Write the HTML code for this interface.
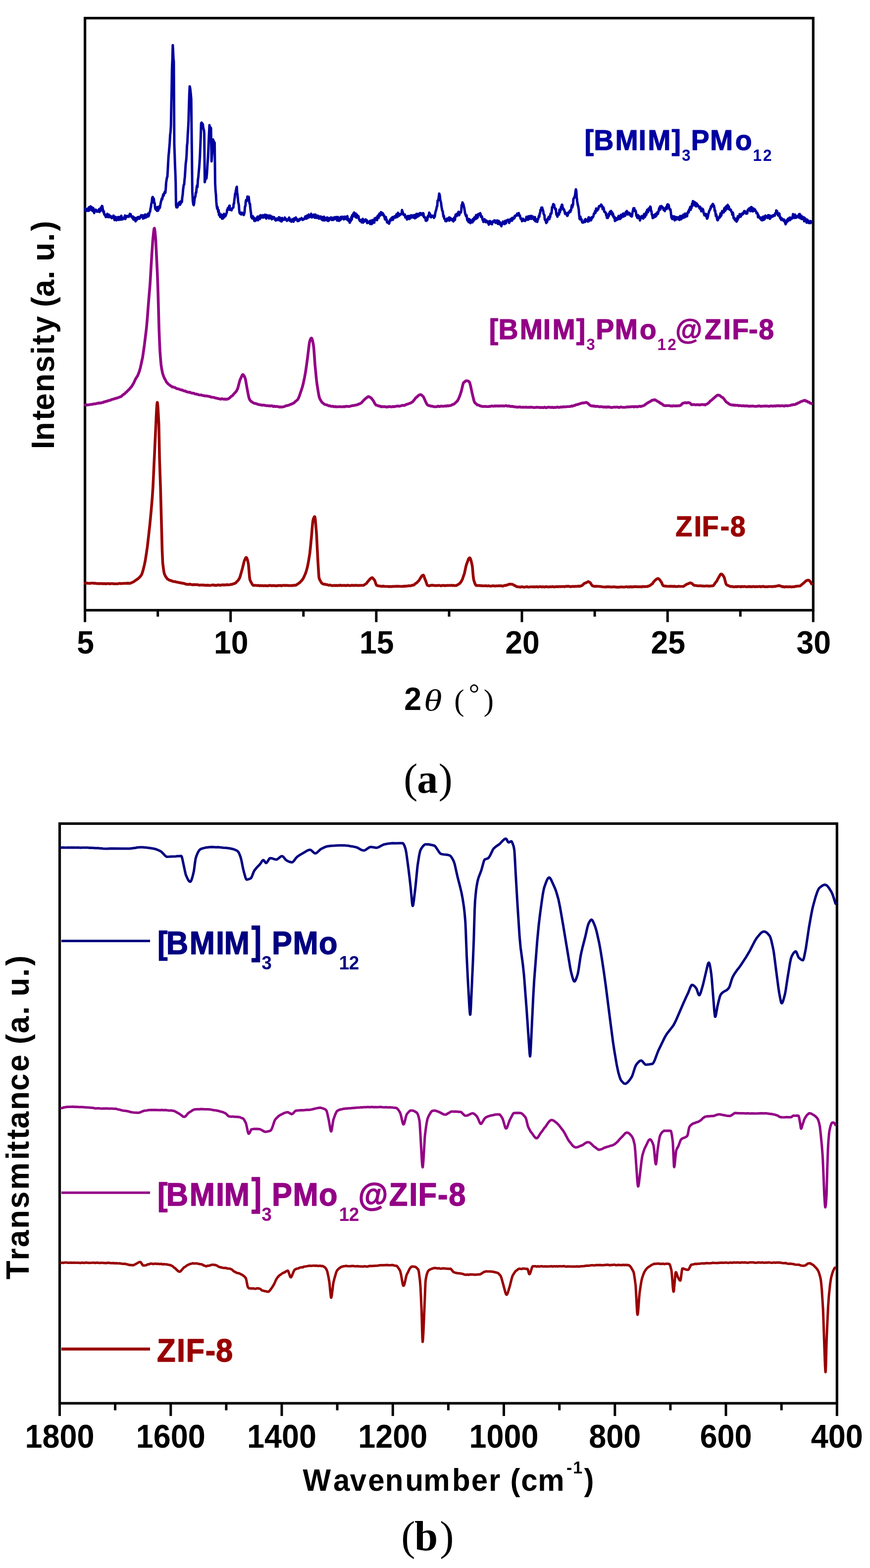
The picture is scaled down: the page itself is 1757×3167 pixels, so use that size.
<!DOCTYPE html>
<html><head><meta charset="utf-8"><title>XRD and FTIR</title><style>
html,body{margin:0;padding:0;background:#fff;}
svg{display:block;}
</style></head>
<body><svg width="1757" height="3167" viewBox="0 0 1757 3167">
<rect width="1757" height="3167" fill="#fff"/>
<rect x="171.6" y="36.6" width="1470.7" height="1195.9" fill="none" stroke="#000" stroke-width="5.2"/>
<path d="M171.6 1232.5V1256.5M318.7 1232.5V1245.5M465.7 1232.5V1256.5M612.8 1232.5V1245.5M759.9 1232.5V1256.5M907.0 1232.5V1245.5M1054.0 1232.5V1256.5M1201.1 1232.5V1245.5M1348.2 1232.5V1256.5M1495.2 1232.5V1245.5M1642.3 1232.5V1256.5" stroke="#000" stroke-width="5" fill="none"/>
<path d="M172.0 1178.1L174.0 1178.1L176.0 1177.7L180.0 1178.3L182.0 1178.4L184.0 1177.7L188.0 1177.7L190.0 1178.2L192.0 1177.9L196.0 1178.7L198.0 1178.4L200.0 1178.9L202.0 1178.9L204.0 1178.4L206.0 1179.0L208.0 1178.7L210.0 1178.9L212.0 1178.8L214.0 1179.2L218.0 1178.6L222.0 1179.2L224.0 1178.8L226.0 1178.7L228.0 1178.8L230.0 1179.3L232.0 1179.3L234.0 1179.0L236.0 1179.2L238.0 1179.1L242.0 1178.3L244.0 1178.8L250.0 1178.2L254.0 1178.2L258.0 1177.9L262.0 1178.3L264.5 1177.6L270.0 1174.9L274.0 1172.0L276.0 1170.9L278.0 1169.1L280.0 1167.8L284.0 1163.5L285.8 1160.9L286.8 1158.7L289.0 1151.7L291.8 1140.2L293.5 1131.6L295.2 1120.7L297.5 1104.9L299.2 1090.4L302.5 1060.7L305.2 1032.4L307.5 1005.5L309.0 982.4L315.8 835.3L316.8 818.4L317.5 812.7L317.8 812.7L318.2 815.0L319.0 823.0L320.8 856.4L322.2 927.4L324.2 986.9L327.5 1111.9L328.5 1135.5L329.8 1147.0L331.0 1154.9L332.2 1159.7L334.0 1163.6L338.0 1169.3L338.5 1169.7L340.5 1170.9L343.8 1172.4L346.0 1172.7L348.0 1174.0L352.0 1174.7L354.0 1174.8L356.0 1175.5L360.0 1176.2L362.0 1176.9L366.0 1177.3L368.0 1178.0L370.0 1178.1L372.0 1178.5L374.0 1179.4L378.0 1180.3L380.0 1180.4L384.0 1179.9L388.0 1181.1L392.0 1180.9L400.0 1181.0L402.0 1181.9L404.0 1181.8L406.0 1181.4L408.0 1181.7L410.0 1181.4L412.0 1181.7L414.0 1182.2L420.0 1181.9L424.0 1182.6L428.0 1181.6L432.0 1181.6L434.0 1182.5L436.0 1182.0L438.0 1182.2L440.0 1181.5L442.0 1181.6L446.0 1182.1L448.0 1181.4L450.0 1181.1L452.0 1181.8L454.0 1181.2L456.0 1181.5L458.0 1180.8L460.0 1181.3L462.0 1181.3L464.0 1181.0L466.0 1180.4L468.0 1180.5L470.0 1179.5L472.2 1179.1L476.0 1177.4L478.0 1174.9L480.0 1173.3L482.5 1170.0L483.5 1168.2L484.8 1164.9L486.8 1158.0L489.8 1147.2L493.2 1133.4L495.8 1127.4L496.5 1126.3L497.2 1125.9L497.8 1126.1L498.2 1126.7L499.2 1129.1L500.0 1131.6L501.5 1138.3L502.2 1144.9L504.0 1166.3L504.8 1171.1L507.0 1175.9L509.0 1179.5L510.0 1181.0L511.5 1182.2L512.2 1182.5L514.0 1182.2L516.0 1182.3L520.0 1182.7L522.0 1182.3L524.0 1183.1L526.0 1182.8L528.0 1183.1L530.0 1182.6L532.0 1183.3L536.0 1182.7L538.0 1183.3L540.0 1183.1L542.0 1183.2L544.0 1182.4L546.0 1182.5L548.0 1183.1L550.0 1182.7L552.0 1182.9L554.0 1182.5L556.0 1183.4L558.0 1182.9L560.0 1183.2L562.0 1182.4L564.0 1182.8L566.0 1182.4L568.0 1183.2L572.0 1182.3L574.0 1182.3L576.0 1182.8L578.0 1182.3L582.0 1182.6L588.0 1182.7L590.0 1182.4L592.0 1182.6L594.0 1182.1L598.0 1181.9L600.0 1180.3L602.0 1179.1L606.0 1176.2L609.2 1172.6L611.5 1169.8L612.5 1168.0L616.0 1160.6L618.0 1155.3L619.5 1150.3L621.0 1144.2L622.5 1136.9L624.2 1126.7L625.8 1116.4L627.2 1102.9L629.2 1082.0L631.0 1060.1L631.8 1052.7L632.5 1049.4L633.8 1045.6L634.5 1044.2L635.0 1043.7L635.5 1043.5L636.0 1044.5L636.2 1045.7L637.0 1051.4L639.2 1078.0L641.8 1129.4L643.5 1157.9L644.0 1164.1L644.5 1167.9L645.2 1169.9L647.0 1173.4L649.2 1177.0L650.5 1178.4L652.2 1179.4L654.0 1180.0L656.0 1179.9L658.0 1180.8L660.0 1180.7L664.0 1182.1L666.0 1181.6L668.0 1182.0L670.0 1182.8L672.0 1182.9L674.0 1182.4L676.0 1182.6L680.0 1182.4L682.0 1182.8L684.0 1182.1L686.0 1182.7L688.0 1181.9L690.0 1182.8L694.0 1182.3L696.0 1182.6L698.0 1182.4L700.0 1182.7L702.0 1182.0L706.0 1182.8L708.0 1182.8L710.0 1182.1L712.0 1182.2L714.0 1182.8L716.0 1182.2L718.0 1182.0L720.0 1182.6L722.0 1182.3L724.0 1182.6L726.0 1182.4L732.0 1182.2L734.0 1182.3L740.0 1178.5L742.0 1175.6L748.0 1168.7L749.5 1167.6L750.8 1166.9L751.5 1166.8L752.0 1166.8L752.8 1167.5L754.0 1169.2L756.0 1171.3L756.8 1172.5L759.5 1180.3L760.5 1182.3L760.8 1182.5L762.0 1182.6L764.0 1183.4L766.0 1183.5L772.0 1184.4L774.0 1183.7L776.0 1184.3L784.0 1184.5L786.0 1184.9L788.0 1184.5L792.0 1184.8L794.0 1184.2L796.0 1184.5L798.0 1184.2L802.0 1184.0L812.0 1184.5L814.0 1184.1L816.0 1184.4L818.0 1183.7L820.0 1183.9L822.0 1183.6L824.0 1183.5L826.0 1182.9L828.0 1183.4L830.0 1183.0L832.0 1182.1L833.8 1182.1L836.0 1181.6L838.0 1179.4L842.0 1176.9L844.0 1174.5L846.0 1172.6L849.0 1167.6L852.0 1163.1L853.0 1162.3L854.8 1161.6L855.2 1161.8L856.0 1163.0L858.0 1169.1L860.0 1173.9L862.0 1180.0L863.0 1181.9L863.8 1182.5L866.0 1183.1L868.0 1183.0L870.0 1182.2L872.0 1182.1L876.0 1182.3L878.0 1182.8L884.0 1182.6L886.0 1182.1L890.0 1183.1L896.0 1182.3L898.0 1183.0L900.0 1182.5L902.0 1182.7L904.0 1182.3L910.0 1182.5L912.0 1182.1L914.0 1182.8L916.0 1182.3L918.0 1182.7L921.5 1182.6L922.5 1182.2L928.0 1178.9L930.8 1175.7L933.8 1170.2L938.0 1157.8L940.5 1146.0L942.0 1140.3L946.0 1129.5L947.2 1127.5L948.5 1126.7L949.0 1126.9L949.5 1127.4L950.5 1129.6L951.8 1134.1L953.8 1143.1L955.8 1165.2L956.5 1170.3L958.2 1176.1L959.5 1179.5L960.8 1181.7L961.5 1182.4L962.0 1182.6L964.0 1182.5L966.0 1182.8L968.0 1182.5L970.0 1182.9L976.0 1183.3L978.0 1183.3L980.0 1183.1L982.0 1183.1L984.0 1183.6L986.0 1183.1L990.0 1183.8L992.0 1183.7L996.0 1183.1L998.0 1183.5L1000.0 1183.6L1004.0 1183.2L1006.0 1183.3L1008.0 1183.0L1010.0 1183.2L1012.0 1183.0L1014.0 1183.6L1016.0 1183.8L1018.0 1182.8L1020.0 1182.3L1022.0 1182.5L1024.0 1181.5L1026.0 1181.1L1028.0 1180.1L1030.0 1179.8L1032.0 1180.0L1034.2 1180.0L1035.8 1180.7L1038.0 1182.0L1040.0 1182.7L1042.0 1184.2L1043.2 1184.7L1045.2 1185.3L1048.0 1185.3L1050.0 1185.9L1054.0 1185.0L1056.0 1185.6L1058.0 1185.9L1060.0 1185.8L1064.0 1184.9L1066.0 1185.7L1068.0 1185.8L1072.0 1185.3L1074.0 1185.3L1076.0 1185.6L1078.0 1185.0L1080.0 1185.6L1084.0 1184.9L1086.0 1185.7L1090.0 1184.9L1092.0 1185.0L1094.0 1185.6L1096.0 1185.0L1098.0 1185.5L1100.0 1185.6L1102.0 1184.8L1106.0 1185.5L1108.0 1185.2L1110.0 1185.5L1112.0 1185.0L1114.0 1185.3L1116.0 1184.8L1118.0 1185.4L1120.0 1185.4L1124.0 1184.8L1128.0 1185.1L1130.0 1184.6L1132.0 1184.9L1134.0 1184.7L1138.0 1184.6L1140.0 1185.1L1142.0 1184.4L1148.0 1184.1L1152.0 1184.9L1154.0 1184.9L1156.0 1184.4L1158.0 1184.3L1160.0 1184.7L1162.0 1184.3L1166.0 1184.3L1168.0 1183.7L1170.0 1184.4L1172.0 1183.6L1173.2 1183.5L1174.8 1183.0L1176.0 1182.2L1178.0 1180.1L1180.0 1178.4L1184.0 1176.8L1188.0 1174.6L1189.0 1175.0L1190.0 1175.8L1191.0 1176.2L1192.0 1176.8L1194.0 1180.1L1196.0 1182.8L1197.2 1183.5L1202.0 1184.5L1204.0 1184.1L1206.0 1184.3L1208.0 1184.3L1214.0 1184.8L1216.0 1185.3L1224.0 1185.6L1226.0 1185.0L1228.0 1185.5L1230.0 1185.0L1234.0 1185.8L1236.0 1185.5L1240.0 1185.3L1242.0 1185.4L1244.0 1185.9L1246.0 1186.0L1248.0 1185.7L1250.0 1186.0L1252.0 1185.7L1254.0 1185.3L1258.0 1185.7L1262.0 1185.6L1266.0 1185.0L1268.0 1185.8L1270.0 1185.1L1272.0 1185.8L1274.0 1184.9L1276.0 1185.8L1278.0 1185.1L1280.0 1185.5L1282.0 1184.7L1284.0 1185.1L1286.0 1184.9L1288.0 1185.3L1292.0 1185.0L1296.0 1185.4L1298.0 1184.4L1300.0 1184.9L1302.0 1184.9L1304.0 1184.8L1306.0 1184.4L1308.0 1184.7L1310.0 1183.4L1312.0 1183.1L1316.0 1179.9L1317.0 1179.5L1318.0 1178.7L1320.0 1175.2L1324.0 1171.1L1327.0 1169.0L1328.8 1168.5L1329.5 1168.6L1330.2 1169.0L1332.0 1170.7L1335.8 1175.8L1338.0 1181.1L1338.5 1181.9L1339.5 1183.0L1340.5 1183.4L1348.0 1184.3L1350.0 1184.2L1352.0 1184.3L1354.0 1183.9L1356.0 1184.2L1358.0 1184.1L1360.0 1184.7L1362.0 1184.0L1364.0 1184.6L1366.0 1184.8L1368.0 1184.6L1370.0 1184.1L1372.0 1184.3L1380.0 1184.5L1388.0 1179.4L1390.0 1179.1L1392.0 1177.9L1394.0 1177.2L1398.0 1178.9L1400.0 1181.1L1401.5 1182.1L1402.5 1182.5L1404.0 1182.4L1408.0 1183.1L1412.0 1183.2L1414.0 1183.0L1416.0 1183.2L1418.0 1183.6L1420.0 1183.5L1422.0 1183.8L1424.0 1183.8L1428.0 1183.3L1430.0 1183.9L1432.0 1183.6L1434.0 1183.9L1436.0 1183.4L1438.5 1183.5L1439.2 1183.3L1440.5 1182.6L1442.0 1181.2L1444.0 1177.9L1446.0 1175.7L1447.5 1173.6L1450.8 1167.3L1454.2 1161.4L1455.5 1159.8L1456.0 1159.5L1456.5 1159.4L1457.8 1159.8L1459.5 1161.3L1460.8 1163.1L1462.5 1166.2L1463.2 1168.4L1465.8 1178.2L1466.5 1180.0L1467.8 1181.4L1469.0 1182.1L1472.0 1183.2L1474.0 1184.4L1480.0 1184.9L1482.0 1185.4L1486.0 1184.7L1488.0 1185.3L1490.0 1184.6L1492.0 1184.8L1494.0 1184.8L1496.0 1185.4L1498.0 1184.4L1500.0 1185.0L1504.0 1184.6L1506.0 1185.0L1508.0 1185.2L1510.0 1185.2L1512.0 1184.5L1514.0 1185.2L1516.0 1184.7L1518.0 1185.3L1522.0 1184.5L1524.0 1185.1L1528.0 1184.9L1530.0 1185.0L1534.0 1184.4L1536.0 1185.3L1538.0 1184.7L1542.0 1184.4L1544.0 1185.1L1546.0 1185.3L1548.0 1184.9L1550.0 1185.2L1552.0 1184.7L1558.0 1184.7L1560.0 1185.0L1564.0 1184.2L1566.0 1184.5L1568.0 1183.7L1572.0 1182.9L1573.5 1182.8L1574.0 1182.8L1576.0 1183.8L1578.0 1184.1L1580.0 1185.2L1582.0 1184.8L1584.0 1185.8L1586.0 1185.0L1588.0 1185.1L1590.0 1185.0L1592.0 1185.4L1596.0 1185.0L1598.0 1185.6L1600.0 1185.1L1602.0 1185.3L1604.0 1185.1L1606.0 1184.3L1608.0 1184.4L1610.0 1183.7L1614.0 1183.7L1616.0 1183.3L1617.2 1182.5L1620.0 1180.0L1622.0 1178.5L1628.0 1173.0L1631.0 1172.0L1632.2 1171.8L1634.0 1172.2L1635.5 1173.6L1637.0 1175.7L1638.9 1179.2" fill="none" stroke="#990000" stroke-width="5.6" stroke-linejoin="round" stroke-linecap="round"/>
<path d="M172.0 817.9L174.0 817.4L176.0 818.0L180.0 817.5L184.0 816.7L186.0 816.8L188.0 816.1L190.0 815.7L192.0 815.8L194.0 815.3L196.0 814.5L198.0 814.6L200.0 813.8L202.0 814.2L204.0 813.8L206.0 813.0L208.0 813.0L210.0 811.6L212.0 811.6L214.0 810.6L216.0 810.4L218.0 809.5L220.0 808.9L222.0 808.8L224.0 807.7L226.0 806.9L232.0 805.3L234.0 804.4L236.0 804.3L242.0 801.7L244.0 801.2L246.0 799.7L248.0 797.6L250.0 796.6L252.0 795.1L254.0 792.7L256.0 791.4L258.0 788.9L260.5 786.8L265.8 780.7L270.0 773.6L274.0 765.0L278.0 758.8L279.5 755.2L281.5 749.7L283.5 742.7L288.0 721.8L291.2 700.0L295.5 665.2L297.2 647.1L300.0 610.3L303.0 574.3L306.0 523.5L308.5 485.9L310.5 466.1L311.2 461.8L311.5 461.2L311.8 461.0L312.2 462.3L313.0 467.6L314.5 484.4L317.8 552.5L319.2 592.1L321.0 659.4L322.0 687.0L323.0 708.2L324.0 722.3L325.2 735.6L326.2 743.1L328.0 752.4L329.2 756.7L331.8 763.5L334.0 767.3L336.0 771.4L339.5 775.4L341.5 777.0L348.0 781.6L350.0 781.5L352.0 782.6L354.0 783.0L356.0 784.6L358.0 785.2L360.0 785.3L364.0 787.0L366.0 787.6L368.0 787.6L370.0 789.1L372.0 789.6L374.0 789.5L376.0 791.0L380.0 792.1L384.0 792.4L386.0 793.8L390.0 794.1L392.0 794.5L394.0 795.8L396.0 795.7L402.0 797.5L404.0 797.7L406.0 797.6L408.0 798.5L410.0 798.7L414.0 799.8L416.0 799.6L420.0 800.2L422.0 800.8L424.0 800.9L426.0 802.1L428.0 802.2L432.0 802.8L434.0 803.5L446.0 806.2L448.0 805.3L452.0 806.4L454.0 805.9L456.0 806.8L458.0 806.0L460.0 806.0L464.0 803.6L466.0 801.3L470.0 798.6L472.0 795.9L476.0 791.7L478.0 789.0L479.5 785.8L480.5 783.1L483.8 770.4L484.8 767.2L489.0 758.0L490.0 756.6L490.5 756.5L491.5 757.1L493.2 759.6L494.2 761.7L495.5 765.3L496.5 770.2L498.8 783.6L501.5 797.7L502.5 802.2L503.5 805.6L504.8 808.2L508.0 811.4L510.8 813.3L514.0 814.8L516.0 814.9L522.0 817.0L526.0 817.8L528.0 817.8L530.0 818.6L532.0 818.1L538.0 819.4L540.0 819.1L542.0 819.8L544.0 819.5L546.0 820.1L548.0 819.5L550.0 819.7L552.0 821.1L554.0 820.3L556.0 821.2L558.0 820.9L560.0 821.0L562.0 821.4L564.0 822.2L566.0 821.8L568.0 822.3L574.0 821.2L578.0 819.4L580.0 819.2L584.0 818.1L586.0 817.0L590.8 815.3L594.0 813.5L596.0 811.3L598.2 809.8L601.0 807.2L602.0 805.9L604.2 800.8L610.2 783.2L612.0 776.6L615.2 761.6L617.2 750.6L621.2 722.0L623.8 699.8L624.8 692.7L626.0 687.7L626.8 685.6L627.8 683.7L628.8 682.8L629.2 683.0L629.8 683.6L630.8 686.3L632.0 691.5L633.2 698.4L634.0 706.3L636.2 737.6L639.2 768.0L640.2 776.0L643.0 793.4L644.0 798.9L645.2 803.7L646.2 806.0L650.0 812.4L656.0 817.1L660.0 817.8L664.0 819.8L666.0 819.4L668.0 820.5L670.0 820.8L672.0 820.4L674.0 821.5L678.0 821.1L680.0 821.7L686.0 821.3L692.0 821.8L694.0 821.0L696.0 821.6L698.0 820.7L700.0 820.6L702.0 821.0L706.0 820.9L712.0 819.1L714.0 819.3L716.0 818.5L718.0 818.4L722.0 817.4L724.0 816.0L726.0 815.9L729.2 814.1L730.8 812.7L734.0 809.0L736.0 807.0L741.2 802.7L744.0 800.9L748.0 802.8L750.0 804.2L752.0 807.0L753.5 808.7L757.5 815.9L759.0 817.9L760.0 818.4L762.0 818.9L766.0 820.4L768.0 820.3L770.0 821.8L772.0 821.0L774.0 821.6L776.0 821.3L778.0 821.4L780.0 822.3L782.0 821.6L784.0 821.9L786.0 821.1L788.0 821.2L790.0 821.8L792.0 821.7L794.0 820.9L796.0 821.5L800.0 820.6L804.0 820.0L806.0 820.6L810.0 819.6L812.0 818.8L814.0 818.7L816.0 819.1L822.0 816.4L824.0 816.0L830.0 813.6L832.5 812.1L833.8 811.0L838.0 805.9L840.0 802.9L842.0 802.2L844.0 799.5L844.8 799.0L847.5 797.4L849.2 797.0L850.2 797.2L851.5 798.0L853.2 799.5L854.8 801.1L855.8 802.8L858.2 808.1L860.0 812.3L862.0 816.2L863.2 817.6L866.0 819.4L868.0 819.4L870.0 820.2L871.0 820.4L874.0 820.6L876.0 821.5L882.0 821.5L884.0 820.3L888.0 821.3L890.0 820.3L896.0 820.6L898.0 820.1L900.0 819.9L902.0 820.3L904.0 819.2L906.0 819.9L908.0 819.2L910.0 819.0L912.0 818.4L914.0 816.8L916.0 816.7L918.0 815.3L922.8 810.8L923.8 809.6L925.2 807.2L926.8 804.0L930.0 795.4L931.8 789.7L934.8 776.9L936.0 773.0L936.8 772.1L938.0 771.7L940.0 769.6L942.0 769.0L946.0 769.7L948.0 771.7L948.5 772.7L949.2 775.0L950.5 780.2L953.0 791.9L956.2 805.6L957.5 810.1L958.8 813.1L959.2 813.7L962.0 815.9L964.0 817.9L966.0 818.0L970.0 819.9L972.0 820.3L974.2 821.0L978.0 821.0L980.0 820.7L984.0 821.2L986.0 821.2L988.0 820.8L990.0 821.0L992.0 820.0L994.0 820.0L996.0 820.6L998.0 820.1L1000.0 819.9L1002.0 820.1L1004.0 819.8L1006.0 820.4L1008.0 819.7L1010.0 820.1L1012.0 819.8L1014.0 820.1L1016.0 819.6L1018.0 820.2L1022.0 819.1L1024.0 820.1L1026.0 820.4L1028.0 819.7L1030.0 820.9L1032.0 820.7L1034.0 821.1L1036.0 820.7L1038.0 821.8L1042.0 821.8L1044.0 822.5L1046.0 822.2L1048.0 822.3L1050.0 821.8L1052.0 822.5L1054.0 822.7L1056.0 822.3L1058.0 822.7L1060.0 822.6L1062.0 822.2L1064.0 822.7L1068.0 822.5L1070.0 822.9L1072.0 822.2L1074.0 822.6L1076.0 822.7L1078.0 823.3L1080.0 823.0L1082.0 823.0L1084.0 822.4L1086.0 822.8L1088.0 822.7L1090.0 823.4L1092.0 822.8L1094.0 823.3L1096.0 823.1L1098.0 823.4L1100.0 822.3L1102.0 823.4L1104.0 823.4L1106.0 822.5L1108.0 822.3L1112.0 822.9L1116.0 822.6L1118.0 823.2L1120.0 822.7L1122.0 823.1L1126.0 822.0L1128.0 822.9L1130.0 822.8L1132.0 822.0L1134.0 822.3L1136.0 822.1L1138.0 821.4L1140.0 821.8L1142.0 821.7L1146.0 821.3L1152.0 821.0L1154.0 819.9L1156.0 820.4L1158.0 819.4L1160.0 819.1L1164.0 817.2L1166.0 817.3L1168.0 816.3L1170.0 816.0L1172.0 815.1L1176.0 813.9L1178.0 813.9L1182.0 813.2L1184.0 812.6L1186.0 814.0L1188.0 814.9L1190.0 817.4L1194.0 820.0L1196.0 819.5L1198.0 820.5L1200.0 819.8L1202.0 821.0L1206.0 820.6L1208.0 821.0L1210.0 821.6L1214.0 821.4L1216.0 821.5L1218.0 822.2L1220.0 822.3L1222.0 821.7L1224.0 822.6L1226.0 821.9L1228.0 822.1L1230.0 821.9L1234.0 823.0L1236.0 823.1L1240.0 822.1L1242.0 822.6L1244.0 822.3L1248.0 822.3L1250.0 823.1L1254.0 821.9L1256.0 822.5L1260.0 822.8L1264.0 822.5L1266.0 821.9L1270.0 822.0L1272.0 821.6L1274.0 821.8L1276.0 821.3L1278.0 821.2L1280.0 822.0L1282.0 821.1L1288.0 821.6L1290.0 820.7L1292.0 820.4L1294.0 821.1L1296.0 820.2L1298.5 819.8L1302.0 818.2L1304.0 816.4L1307.8 813.7L1310.0 812.8L1312.0 811.4L1314.0 810.4L1316.0 808.9L1318.0 808.0L1320.0 808.2L1322.0 807.1L1325.5 809.0L1328.0 810.7L1332.0 812.7L1334.0 814.8L1336.0 815.3L1338.0 816.7L1340.0 818.6L1342.8 819.4L1344.0 819.5L1346.0 819.2L1352.0 819.2L1354.0 820.0L1356.0 819.9L1358.0 820.2L1360.0 819.4L1364.0 820.0L1366.0 819.6L1368.0 819.9L1370.0 819.4L1372.0 819.6L1373.0 819.3L1376.0 817.5L1378.0 815.2L1379.2 814.4L1380.2 814.0L1382.0 813.7L1384.0 813.1L1386.0 813.9L1390.0 813.0L1392.0 813.7L1392.8 813.7L1394.0 814.5L1396.0 817.1L1397.2 817.6L1400.0 817.0L1402.0 817.0L1404.0 817.8L1408.0 817.2L1410.0 817.6L1412.0 817.5L1414.0 817.9L1416.0 817.0L1418.0 817.0L1420.0 817.4L1422.0 817.1L1424.0 818.1L1426.0 816.6L1428.0 816.1L1430.0 814.4L1432.0 813.0L1434.0 810.3L1438.0 807.4L1440.0 805.3L1442.0 804.0L1444.0 801.9L1446.0 800.5L1448.0 798.7L1449.2 798.2L1450.2 798.0L1452.2 798.3L1454.0 799.0L1456.0 801.0L1458.0 802.3L1460.0 803.3L1464.0 808.2L1466.0 811.2L1468.0 813.0L1470.0 813.9L1474.0 816.9L1478.0 818.0L1480.0 817.8L1482.0 818.7L1484.0 818.1L1486.0 818.7L1490.0 818.6L1492.0 819.6L1494.0 819.0L1498.0 819.7L1500.0 819.4L1504.0 819.9L1510.0 819.8L1512.0 820.6L1514.0 820.2L1516.0 820.4L1520.0 820.0L1524.0 820.7L1528.0 820.8L1530.0 820.0L1532.0 820.1L1534.0 819.8L1536.0 820.9L1538.0 820.4L1540.0 820.5L1544.0 820.0L1546.0 820.1L1548.0 820.0L1552.0 820.6L1554.0 820.6L1556.0 819.9L1558.0 819.8L1560.0 820.4L1564.0 819.7L1566.0 820.2L1568.0 819.6L1572.0 819.4L1576.0 819.9L1578.0 819.5L1580.0 819.4L1584.0 820.3L1586.0 819.2L1588.0 819.3L1590.0 819.9L1592.0 819.3L1596.0 819.0L1598.0 817.8L1600.0 818.0L1602.0 817.0L1604.0 817.3L1606.0 816.9L1608.0 815.4L1610.0 815.4L1612.0 813.6L1614.0 813.1L1616.0 811.9L1618.0 810.9L1623.8 809.0L1625.8 808.6L1626.2 808.8L1628.0 810.4L1630.0 810.3L1632.0 812.2L1634.0 812.3L1636.0 814.2L1638.9 815.2" fill="none" stroke="#930086" stroke-width="5.6" stroke-linejoin="round" stroke-linecap="round"/>
<path d="M172.0 420.9L172.9 427.0L173.7 426.3L174.6 422.1L175.4 424.2L176.3 423.9L177.1 425.2L178.0 425.9L178.8 419.6L179.7 418.7L180.5 425.0L181.3 421.2L182.2 423.6L183.0 416.8L183.9 420.1L184.7 422.0L185.5 418.7L186.3 425.7L187.1 426.2L187.8 419.9L188.6 420.7L189.4 426.0L190.2 430.3L191.0 426.5L191.8 425.1L192.5 426.8L193.3 423.5L194.1 425.2L194.8 427.0L195.6 427.5L196.3 425.3L197.1 425.2L197.9 425.1L198.6 427.2L199.4 425.7L200.2 422.4L201.0 428.2L201.8 424.8L202.6 424.5L203.5 419.6L204.3 425.3L205.1 423.1L205.9 415.9L206.7 416.6L207.5 422.3L208.2 424.6L209.0 428.9L209.7 426.9L210.5 432.8L211.2 433.8L212.0 433.1L212.8 435.7L213.6 438.4L214.4 438.2L215.2 435.5L216.0 436.4L216.8 431.9L217.7 433.8L218.5 438.7L219.3 435.6L220.1 433.7L220.9 437.1L221.7 438.5L222.5 438.5L223.3 436.3L224.1 437.1L224.9 438.0L225.7 440.6L226.5 438.8L227.3 438.0L228.2 439.1L229.0 435.6L229.8 436.0L230.6 441.9L231.4 444.5L232.2 441.6L233.0 440.2L233.8 438.2L234.6 440.9L235.4 444.9L236.2 443.0L237.0 441.0L237.8 443.6L238.7 438.3L239.5 440.5L240.3 444.1L241.1 440.9L241.9 439.8L242.7 438.1L243.5 440.4L244.3 443.8L245.1 435.7L245.9 442.2L246.7 442.4L247.5 442.9L248.3 441.6L249.2 442.1L250.0 439.5L250.8 439.8L251.6 438.6L252.4 435.4L253.2 442.2L254.0 439.6L254.8 436.2L255.6 438.4L256.5 438.0L257.3 436.6L258.1 436.2L258.9 437.5L259.8 437.9L260.6 437.5L261.4 435.9L262.2 432.0L263.0 433.4L263.9 432.7L264.7 435.8L265.5 437.8L266.3 438.5L267.1 439.6L268.0 441.0L268.8 437.4L269.6 443.5L270.4 443.3L271.3 439.5L272.1 440.1L272.9 441.2L273.7 447.0L274.5 442.2L275.3 440.6L276.1 444.4L276.9 441.6L277.7 438.8L278.6 439.0L279.4 441.7L280.2 438.2L281.0 438.5L281.8 441.7L282.6 439.1L283.4 437.5L284.2 438.7L285.0 434.7L285.8 437.7L286.5 437.8L287.3 435.8L288.1 435.0L288.9 441.5L289.7 438.1L290.5 435.4L291.3 438.6L292.1 440.3L292.9 433.5L293.6 433.3L294.4 434.3L295.2 439.0L296.0 434.1L296.8 437.9L297.6 436.9L298.4 435.0L299.1 431.5L299.9 437.0L300.7 434.7L301.5 431.5L302.3 428.3L303.1 427.4L304.0 420.8L304.8 417.9L305.6 411.3L306.5 409.4L307.3 400.2L308.2 397.8L309.0 398.9L309.8 402.3L310.7 401.7L311.5 410.6L312.4 410.1L313.2 419.6L314.1 422.2L314.9 423.6L315.7 421.7L316.5 419.1L317.3 425.9L318.0 418.3L318.8 424.3L319.6 425.0L320.4 421.1L321.2 417.2L322.0 420.7L322.8 419.3L323.6 414.7L324.4 410.7L325.1 407.2L325.9 404.6L326.7 401.1L327.5 402.7L328.3 398.8L329.1 395.0L329.9 392.4L330.6 395.2L331.4 390.3L332.2 390.2L333.0 386.9L333.8 389.6L334.6 383.2L335.5 369.1L336.3 363.9L337.2 358.3L338.0 357.1L338.8 343.8L339.6 328.5L340.3 315.9L341.1 308.2L341.9 298.6L342.7 288.5L343.6 272.7L344.4 266.3L345.2 253.8L345.9 215.7L346.6 183.5L347.3 140.8L348.1 120.7L348.9 91.2L349.6 102.4L350.3 119.2L351.0 123.8L352.0 292.2L352.7 310.8L353.4 332.7L354.1 348.7L354.8 368.4L355.5 414.2L356.3 418.8L357.1 416.2L357.9 418.9L358.6 418.0L359.4 411.4L360.2 414.5L361.0 410.5L361.8 408.9L362.6 408.1L363.4 413.7L364.2 412.0L365.0 411.3L365.8 406.2L366.6 407.4L367.4 407.8L368.1 398.4L368.9 394.0L369.6 385.1L370.4 377.9L371.1 373.4L371.9 372.7L372.6 363.9L373.4 356.5L374.3 342.1L375.1 330.1L376.0 323.9L376.8 313.8L377.6 294.8L378.4 288.3L379.2 271.3L380.0 259.5L380.8 242.8L381.6 212.6L382.3 191.2L383.1 174.4L383.9 177.5L384.6 182.8L385.4 191.1L386.2 199.6L387.3 292.0L388.4 387.4L389.4 405.7L390.4 412.8L391.2 414.4L392.1 410.5L392.9 402.0L393.8 398.3L394.6 396.8L395.4 389.0L396.3 389.1L397.1 379.3L398.0 374.5L398.8 378.1L399.6 363.9L400.5 358.0L401.3 348.4L402.2 338.8L403.0 328.3L403.8 315.5L404.6 296.0L405.4 276.1L406.2 248.9L407.1 247.7L408.0 249.0L408.9 249.9L409.6 250.9L410.3 256.7L411.1 261.1L411.8 262.4L412.5 269.3L413.5 368.1L414.3 364.2L415.2 359.5L416.0 357.8L416.9 360.4L417.7 352.6L418.5 341.1L419.3 327.9L420.1 317.3L420.9 299.5L421.6 283.4L422.3 268.2L423.0 252.8L423.8 258.8L424.6 260.8L425.3 257.4L426.1 259.2L427.2 326.0L428.0 316.3L428.8 306.5L429.5 293.6L430.3 281.8L431.1 285.2L431.9 285.3L432.7 290.9L433.5 288.4L434.5 370.4L435.3 385.6L436.1 393.2L436.9 408.0L437.7 415.9L438.5 421.4L439.2 417.9L440.0 423.2L440.7 428.0L441.5 424.4L442.2 434.1L443.0 430.0L443.8 435.8L444.6 438.3L445.3 437.8L446.1 434.3L446.9 433.3L447.6 437.5L448.4 441.7L449.2 437.3L450.0 441.5L450.8 434.4L451.6 440.1L452.4 431.9L453.1 433.5L453.9 437.7L454.7 436.0L455.5 436.1L456.3 433.9L457.1 431.5L458.0 429.4L458.8 423.5L459.6 424.0L460.4 420.0L461.3 423.1L462.1 421.0L462.9 415.9L463.7 415.3L464.4 423.9L465.2 423.6L466.0 422.4L466.9 422.2L467.7 424.7L468.6 421.2L469.5 420.6L470.3 420.0L471.2 419.2L471.9 411.6L472.6 411.2L473.3 403.7L474.0 399.4L474.8 391.2L475.7 389.7L476.5 384.0L477.4 380.0L478.2 377.2L478.9 389.0L479.6 392.3L480.3 399.4L481.0 408.1L481.7 410.6L482.4 414.3L483.1 424.2L483.8 429.6L484.6 431.3L485.5 429.9L486.3 432.4L487.2 433.2L488.0 429.5L488.8 432.1L489.7 432.4L490.5 430.7L491.4 432.6L492.2 434.3L493.0 432.5L493.9 427.8L494.7 417.6L495.6 416.0L496.4 406.2L497.2 403.8L498.1 405.0L498.9 405.5L499.7 396.9L500.6 399.4L501.4 397.8L502.2 397.6L503.1 405.3L503.9 411.2L504.8 411.7L505.5 420.1L506.2 426.0L506.9 430.4L507.6 438.2L508.4 439.6L509.2 441.2L509.9 439.1L510.7 436.8L511.5 438.5L512.3 439.4L513.0 443.4L513.8 446.1L514.6 441.2L515.4 446.0L516.2 445.8L517.0 442.2L517.8 443.1L518.7 439.6L519.5 443.8L520.3 437.5L521.1 444.9L521.9 442.9L522.7 440.9L523.5 437.4L524.3 442.3L525.1 442.2L525.9 434.7L526.8 439.6L527.6 439.6L528.4 437.6L529.2 437.4L530.0 434.7L530.8 439.0L531.6 439.6L532.3 434.9L533.1 438.7L533.9 435.8L534.7 433.8L535.4 435.4L536.2 433.9L537.0 440.7L537.8 441.4L538.6 434.6L539.3 438.8L540.1 437.5L540.9 435.3L541.7 437.0L542.4 436.8L543.2 441.3L544.0 435.2L544.8 436.9L545.6 439.1L546.4 435.7L547.2 441.0L548.0 440.9L548.8 442.9L549.6 437.8L550.4 438.6L551.2 440.8L552.0 438.7L552.8 441.4L553.6 438.7L554.4 442.5L555.2 443.5L556.0 443.8L556.8 445.3L557.6 441.8L558.4 441.5L559.2 444.7L560.0 444.1L560.8 442.5L561.6 441.1L562.4 440.3L563.2 439.0L564.0 445.0L564.8 439.3L565.6 444.7L566.4 443.1L567.2 446.8L568.0 445.2L568.8 447.1L569.6 440.2L570.4 443.4L571.2 444.1L572.0 442.0L572.8 443.6L573.6 442.4L574.4 443.8L575.2 439.4L576.0 443.1L576.8 443.2L577.6 442.0L578.4 442.8L579.2 446.0L580.0 445.1L580.8 443.5L581.6 444.8L582.4 442.6L583.2 441.1L584.0 439.4L584.8 441.7L585.6 444.4L586.4 446.8L587.2 446.4L588.0 443.7L588.8 447.7L589.6 443.3L590.4 446.4L591.2 442.8L592.0 445.7L592.8 447.7L593.6 442.0L594.4 440.8L595.2 444.6L596.0 443.9L596.8 442.4L597.6 439.4L598.4 442.7L599.2 443.0L600.0 442.8L600.8 446.4L601.6 443.9L602.4 444.9L603.2 446.1L604.1 444.6L604.9 442.2L605.7 444.1L606.5 443.0L607.3 442.9L608.1 442.5L608.9 440.4L609.7 442.0L610.5 441.8L611.3 444.2L612.2 442.7L613.0 443.0L613.8 442.1L614.6 442.3L615.4 440.3L616.2 437.9L617.0 437.0L617.8 440.5L618.6 441.7L619.5 438.7L620.3 435.2L621.1 440.6L621.9 437.5L622.7 437.1L623.5 433.4L624.3 437.1L625.1 438.8L625.9 435.9L626.7 435.1L627.6 437.4L628.4 431.8L629.2 435.7L630.0 439.2L630.8 436.8L631.6 434.6L632.4 437.2L633.2 436.7L633.9 433.6L634.7 433.8L635.5 439.8L636.3 434.8L637.1 433.4L637.9 439.9L638.7 437.6L639.5 436.5L640.2 437.9L641.0 440.0L641.8 435.5L642.6 439.8L643.4 440.5L644.2 441.6L645.0 437.2L645.8 440.3L646.5 437.3L647.3 440.3L648.1 437.3L648.9 442.7L649.7 443.5L650.5 439.2L651.3 438.6L652.1 445.0L652.9 443.1L653.6 444.4L654.4 437.8L655.2 445.3L656.0 443.2L656.8 440.7L657.6 441.6L658.4 444.4L659.2 444.6L660.0 439.6L660.8 443.3L661.6 439.4L662.4 446.2L663.2 441.7L664.0 445.7L664.8 444.1L665.6 443.1L666.4 440.2L667.2 442.4L668.0 439.2L668.8 439.2L669.6 444.0L670.4 441.0L671.2 444.3L672.0 440.0L672.8 444.0L673.6 444.0L674.4 440.6L675.2 438.9L676.0 441.3L676.8 442.1L677.6 438.8L678.4 439.6L679.2 438.5L680.0 443.0L680.8 445.5L681.6 439.8L682.4 438.3L683.2 443.9L684.0 444.8L684.8 446.0L685.6 442.9L686.4 440.5L687.2 444.5L688.0 438.3L688.8 443.0L689.6 437.9L690.4 440.3L691.2 441.0L692.0 439.8L692.7 437.9L693.5 438.3L694.3 443.2L695.1 440.0L695.9 440.9L696.7 437.6L697.5 441.7L698.3 438.4L699.1 440.5L699.9 443.0L700.7 443.6L701.5 436.6L702.3 443.9L703.1 445.4L703.9 441.9L704.7 443.4L705.5 446.1L706.3 449.9L707.1 444.3L707.9 447.0L708.8 444.8L709.6 438.4L710.4 443.5L711.2 434.7L712.0 434.5L712.8 437.6L713.7 431.2L714.5 432.7L715.3 429.3L716.1 432.8L716.9 436.7L717.7 438.0L718.5 431.5L719.2 432.4L720.0 439.7L720.8 433.7L721.6 436.4L722.4 435.9L723.2 436.4L724.0 436.6L724.8 442.4L725.5 444.1L726.3 444.3L727.1 446.4L727.9 445.6L728.7 444.1L729.5 446.3L730.3 449.2L731.1 446.6L731.9 443.4L732.7 442.1L733.5 449.6L734.3 446.8L735.1 444.9L735.9 447.2L736.7 447.0L737.5 446.8L738.3 443.1L739.1 445.7L739.9 446.4L740.7 444.7L741.5 450.6L742.3 446.9L743.1 449.1L743.9 449.6L744.7 450.0L745.5 450.0L746.3 450.4L747.1 446.4L747.9 452.6L748.7 445.8L749.5 452.4L750.3 452.0L751.1 452.2L751.9 444.8L752.7 444.6L753.5 450.0L754.3 446.5L755.1 445.1L755.9 449.7L756.7 441.1L757.5 444.7L758.3 443.3L759.1 440.1L759.9 441.7L760.7 443.7L761.5 444.6L762.3 436.8L763.1 440.0L763.8 435.3L764.6 440.3L765.4 433.2L766.1 431.8L766.9 433.7L767.6 435.6L768.4 431.1L769.2 428.5L769.9 433.1L770.7 432.2L771.5 433.7L772.3 430.1L773.0 432.2L773.8 431.8L774.6 435.5L775.4 434.7L776.1 435.9L776.9 440.7L777.7 443.2L778.5 441.2L779.3 438.3L780.0 443.9L780.8 443.3L781.6 448.9L782.4 447.8L783.1 449.8L783.9 449.8L784.7 449.5L785.5 451.8L786.3 450.6L787.1 445.3L787.9 443.5L788.7 444.6L789.5 445.2L790.3 440.9L791.1 442.3L791.9 443.5L792.7 438.4L793.5 444.1L794.3 442.1L795.1 438.5L795.9 437.7L796.7 437.6L797.5 436.7L798.3 439.7L799.1 437.0L799.9 436.6L800.7 432.8L801.5 438.7L802.3 433.1L803.1 432.6L803.9 429.8L804.7 436.8L805.5 432.0L806.3 435.1L807.1 434.6L807.9 434.3L808.7 432.5L809.5 432.8L810.3 432.1L811.1 430.5L811.9 424.3L812.7 427.0L813.5 428.7L814.4 433.5L815.2 433.0L816.1 433.5L816.9 435.2L817.7 433.2L818.6 439.3L819.4 438.1L820.3 437.3L821.1 439.1L821.9 443.4L822.7 439.5L823.5 436.4L824.3 436.2L825.1 440.6L825.9 439.5L826.7 442.4L827.5 436.2L828.3 438.1L829.1 440.6L829.9 434.9L830.7 435.2L831.5 438.9L832.3 436.5L833.1 435.1L833.9 436.3L834.7 439.4L835.5 438.4L836.3 434.6L837.1 434.5L837.9 440.9L838.7 438.7L839.5 434.2L840.3 439.5L841.0 431.9L841.8 434.3L842.6 437.8L843.4 436.1L844.2 432.0L845.0 436.6L845.8 433.6L846.6 435.3L847.4 435.0L848.1 430.5L848.9 432.1L849.7 430.5L850.5 433.3L851.3 432.1L852.0 431.5L852.8 432.2L853.6 435.2L854.3 430.4L855.1 431.3L855.9 437.3L856.6 438.9L857.4 438.1L858.1 439.3L858.9 440.0L859.7 445.4L860.4 446.1L861.2 445.7L862.0 439.5L862.8 444.7L863.6 439.9L864.4 436.0L865.2 435.3L866.0 437.0L866.8 429.6L867.6 430.8L868.4 432.5L869.2 437.7L870.0 436.7L870.8 438.8L871.6 435.4L872.4 435.8L873.2 435.8L874.0 435.8L874.8 436.2L875.6 438.7L876.4 440.0L877.2 435.6L878.0 437.7L878.9 431.1L879.7 427.2L880.5 425.1L881.4 421.9L882.2 417.2L883.0 416.4L883.8 405.2L884.6 404.7L885.4 403.4L886.2 396.8L887.0 391.0L887.7 392.7L888.4 396.3L889.2 404.1L889.9 407.2L890.6 408.6L891.4 415.6L892.3 420.9L893.1 425.2L894.0 426.4L894.8 432.1L895.6 437.3L896.4 436.1L897.2 441.7L898.0 441.8L898.8 443.0L899.6 446.4L900.4 446.0L901.2 446.8L902.0 446.1L902.8 441.6L903.6 441.6L904.4 441.2L905.2 445.0L906.0 441.6L906.8 439.2L907.6 445.4L908.4 439.4L909.2 441.7L910.0 443.8L910.8 443.6L911.6 441.6L912.4 444.7L913.2 442.5L914.0 444.6L914.8 442.9L915.6 447.2L916.4 445.2L917.2 440.2L918.0 438.9L918.8 444.3L919.6 436.5L920.4 433.2L921.2 433.5L922.0 433.8L922.8 436.2L923.6 431.2L924.4 433.7L925.1 434.3L925.9 427.7L926.7 431.8L927.5 434.7L928.2 430.6L929.0 430.2L929.8 428.3L930.6 429.3L931.5 425.5L932.3 414.1L933.2 413.9L934.0 408.7L934.8 413.8L935.7 412.0L936.5 416.2L937.4 419.2L938.2 423.8L939.0 429.3L939.8 432.6L940.6 434.8L941.4 436.7L942.2 434.5L943.0 439.9L943.8 445.0L944.6 442.3L945.4 444.6L946.1 448.4L946.9 442.2L947.7 448.9L948.5 443.1L949.2 445.9L950.0 450.7L950.8 445.3L951.6 447.3L952.4 445.7L953.2 449.0L954.1 449.1L954.9 442.5L955.7 443.5L956.5 446.2L957.3 442.6L958.1 439.1L959.0 443.0L959.8 438.7L960.6 439.3L961.4 434.4L962.3 441.8L963.1 438.2L964.0 439.6L964.8 439.1L965.6 432.4L966.5 433.9L967.3 432.2L968.2 434.0L969.0 433.9L969.8 430.5L970.6 432.7L971.4 438.1L972.2 437.5L973.0 436.9L973.8 439.2L974.6 444.1L975.4 444.9L976.2 448.3L977.0 445.2L977.8 446.3L978.5 442.8L979.3 445.5L980.1 444.8L980.9 448.7L981.7 445.6L982.5 445.6L983.3 447.3L984.1 448.6L984.8 447.9L985.6 450.6L986.4 447.5L987.2 453.8L988.0 452.1L988.8 450.6L989.6 446.5L990.4 448.6L991.2 451.5L992.0 451.0L992.8 452.3L993.6 452.8L994.4 447.8L995.2 449.2L996.0 447.7L996.8 445.9L997.6 445.8L998.4 446.7L999.2 445.1L1000.0 448.8L1000.8 450.0L1001.6 448.7L1002.4 449.6L1003.2 445.6L1004.0 445.3L1004.8 449.0L1005.6 452.3L1006.3 449.0L1007.1 446.1L1007.9 446.9L1008.7 449.9L1009.4 453.1L1010.2 449.3L1011.0 451.1L1011.8 454.6L1012.6 456.9L1013.4 451.2L1014.1 453.0L1014.9 452.0L1015.7 447.6L1016.5 449.8L1017.3 447.9L1018.1 448.6L1018.9 452.6L1019.7 451.6L1020.4 445.9L1021.2 445.9L1022.0 451.0L1022.8 445.5L1023.6 447.0L1024.4 446.3L1025.2 444.1L1026.0 443.7L1026.7 444.3L1027.5 446.2L1028.3 450.3L1029.1 447.6L1029.9 443.5L1030.7 446.4L1031.5 442.3L1032.3 443.6L1033.1 441.2L1033.9 445.8L1034.7 440.0L1035.5 443.1L1036.3 441.0L1037.1 442.0L1038.0 439.2L1038.8 440.7L1039.6 436.1L1040.4 437.6L1041.2 436.4L1042.0 434.9L1042.8 434.5L1043.6 433.5L1044.4 431.6L1045.2 435.1L1046.0 432.1L1046.8 433.0L1047.7 430.3L1048.5 435.7L1049.3 434.4L1050.2 436.3L1051.0 439.7L1051.8 442.2L1052.6 441.2L1053.5 442.9L1054.3 446.7L1055.1 445.8L1055.9 444.8L1056.7 441.9L1057.5 443.7L1058.3 445.7L1059.1 444.4L1059.9 444.0L1060.7 446.1L1061.5 444.7L1062.3 444.0L1063.1 438.1L1063.9 440.0L1064.7 442.7L1065.5 437.9L1066.3 443.9L1067.1 437.0L1067.9 442.8L1068.7 436.8L1069.5 441.7L1070.3 441.3L1071.1 436.6L1071.9 441.7L1072.7 435.9L1073.4 442.1L1074.2 438.6L1075.0 439.4L1075.8 437.1L1076.5 441.6L1077.3 439.2L1078.1 442.9L1078.9 444.4L1079.7 443.1L1080.4 438.5L1081.2 446.9L1082.0 447.0L1082.8 445.0L1083.5 443.2L1084.3 445.1L1085.1 448.2L1085.9 442.5L1086.7 443.0L1087.6 439.3L1088.4 435.7L1089.2 437.8L1090.0 431.2L1090.8 430.7L1091.6 423.9L1092.5 425.3L1093.3 419.5L1094.1 422.9L1094.9 419.2L1095.6 421.8L1096.4 424.6L1097.2 427.0L1097.9 432.4L1098.7 433.3L1099.5 434.8L1100.2 443.0L1101.0 444.6L1101.8 444.7L1102.5 448.1L1103.3 450.5L1104.1 444.6L1104.9 448.2L1105.6 442.3L1106.4 444.0L1107.2 441.2L1108.0 438.4L1108.7 442.5L1109.5 442.6L1110.3 436.4L1111.1 438.5L1111.9 431.4L1112.7 431.3L1113.5 431.5L1114.2 427.0L1115.0 418.3L1115.8 418.8L1116.6 415.7L1117.4 412.3L1118.2 414.1L1119.0 413.7L1119.9 418.7L1120.7 420.9L1121.5 422.8L1122.4 421.7L1123.2 429.7L1124.0 434.3L1124.9 431.0L1125.7 437.8L1126.5 434.7L1127.3 431.7L1128.2 433.0L1129.0 433.4L1129.8 423.6L1130.6 429.1L1131.4 423.0L1132.2 425.0L1133.0 417.7L1133.9 420.4L1134.7 413.4L1135.5 413.6L1136.3 420.9L1137.1 420.2L1137.8 423.2L1138.6 422.4L1139.4 424.4L1140.2 426.5L1140.9 430.8L1141.7 432.3L1142.5 429.8L1143.3 431.9L1144.1 432.8L1144.8 433.0L1145.6 436.0L1146.4 435.3L1147.2 429.5L1147.9 431.4L1148.7 429.1L1149.5 428.4L1150.3 426.6L1151.1 425.4L1151.8 428.1L1152.6 425.1L1153.4 424.0L1154.2 417.6L1154.9 414.3L1155.7 418.9L1156.5 415.5L1157.3 412.9L1158.1 401.4L1158.9 400.9L1159.8 399.2L1160.6 396.4L1161.4 394.2L1162.2 387.4L1163.0 382.5L1163.8 385.2L1164.7 397.9L1165.5 405.3L1166.3 410.6L1167.1 414.7L1168.0 418.2L1168.8 423.5L1169.7 434.2L1170.5 441.7L1171.3 443.0L1172.1 437.5L1172.8 442.0L1173.6 442.5L1174.4 442.8L1175.2 447.0L1175.9 449.3L1176.7 448.6L1177.5 449.5L1178.3 449.1L1179.1 448.4L1180.0 447.1L1180.8 444.3L1181.6 448.4L1182.4 442.5L1183.2 446.6L1184.0 444.1L1184.8 445.2L1185.7 445.5L1186.5 443.8L1187.3 447.6L1188.1 441.1L1188.9 438.8L1189.8 446.4L1190.6 440.6L1191.4 440.0L1192.2 440.8L1193.0 441.9L1193.8 444.9L1194.6 442.2L1195.5 438.6L1196.3 440.0L1197.1 439.0L1197.9 437.7L1198.7 435.3L1199.4 431.5L1200.2 431.7L1201.0 429.9L1201.8 426.6L1202.5 430.1L1203.3 424.5L1204.1 421.1L1204.9 423.9L1205.7 425.6L1206.5 424.4L1207.4 422.4L1208.2 422.6L1209.0 418.7L1209.8 416.4L1210.6 416.7L1211.5 416.8L1212.3 415.6L1213.1 416.5L1213.9 413.2L1214.7 413.9L1215.5 415.9L1216.3 416.3L1217.1 422.3L1217.9 421.1L1218.7 419.1L1219.5 422.0L1220.3 427.6L1221.1 427.0L1221.8 428.7L1222.6 429.2L1223.4 429.4L1224.2 434.9L1224.9 432.1L1225.7 439.9L1226.5 435.7L1227.3 440.3L1228.0 436.1L1228.8 437.5L1229.6 435.6L1230.3 430.6L1231.1 432.9L1231.8 427.8L1232.6 428.1L1233.4 428.1L1234.1 426.1L1234.9 428.2L1235.7 432.8L1236.5 429.3L1237.2 435.2L1238.0 432.0L1238.8 437.9L1239.6 436.7L1240.3 440.2L1241.1 438.3L1241.9 446.3L1242.7 440.8L1243.6 442.5L1244.4 440.6L1245.2 444.6L1246.1 442.4L1246.9 442.2L1247.8 442.9L1248.6 438.3L1249.4 436.2L1250.2 442.3L1250.9 437.5L1251.7 441.2L1252.5 442.0L1253.3 438.8L1254.1 433.9L1254.9 439.7L1255.6 437.4L1256.4 433.7L1257.2 432.9L1258.0 435.0L1258.8 431.3L1259.5 437.4L1260.3 435.3L1261.1 435.8L1261.9 431.7L1262.7 435.8L1263.5 428.7L1264.2 433.1L1265.0 428.8L1265.8 426.2L1266.6 427.4L1267.4 428.3L1268.1 433.3L1268.9 430.3L1269.7 431.4L1270.5 432.7L1271.2 430.0L1272.0 433.3L1272.8 433.8L1273.6 436.2L1274.3 432.9L1275.1 436.1L1275.9 437.2L1276.8 433.3L1277.6 428.0L1278.5 424.5L1279.3 420.7L1280.2 424.6L1281.0 420.5L1281.8 426.0L1282.6 426.9L1283.5 425.3L1284.3 428.6L1285.1 435.6L1285.9 435.0L1286.7 439.3L1287.6 440.2L1288.4 434.4L1289.2 440.3L1290.0 436.0L1290.9 440.2L1291.7 441.4L1292.5 445.2L1293.3 441.7L1294.1 437.8L1295.0 439.9L1295.8 439.5L1296.6 436.3L1297.4 437.1L1298.2 441.0L1299.0 441.3L1299.8 439.1L1300.7 432.6L1301.5 439.1L1302.3 434.9L1303.1 437.5L1303.9 430.5L1304.7 428.9L1305.4 433.8L1306.2 427.1L1307.0 423.7L1307.8 426.1L1308.5 428.8L1309.3 426.0L1310.1 420.9L1310.9 424.5L1311.6 421.4L1312.4 420.3L1313.2 417.2L1314.0 418.6L1314.8 426.4L1315.6 426.2L1316.5 433.6L1317.3 433.9L1318.1 440.4L1318.9 440.2L1319.7 438.8L1320.5 439.2L1321.3 436.0L1322.1 433.6L1322.9 436.4L1323.7 437.6L1324.5 431.8L1325.3 435.8L1326.1 434.2L1326.9 432.8L1327.8 428.5L1328.6 432.0L1329.4 429.0L1330.3 425.9L1331.1 420.7L1331.9 423.2L1332.8 417.2L1333.6 423.3L1334.4 417.3L1335.3 416.2L1336.1 416.4L1336.9 418.1L1337.7 418.6L1338.5 418.7L1339.3 421.0L1340.1 423.7L1340.9 421.3L1341.7 422.7L1342.5 426.3L1343.3 420.4L1344.1 420.3L1344.9 420.3L1345.7 417.9L1346.5 422.2L1347.3 414.5L1348.1 412.7L1348.9 413.0L1349.7 413.2L1350.5 414.4L1351.3 419.6L1352.1 422.1L1352.9 423.7L1353.8 422.6L1354.6 426.5L1355.4 435.0L1356.2 440.3L1357.0 436.1L1357.8 442.5L1358.6 439.5L1359.4 440.1L1360.2 441.0L1361.0 436.9L1361.8 438.2L1362.6 445.1L1363.4 439.9L1364.2 438.2L1365.0 439.8L1365.8 443.3L1366.6 439.3L1367.4 438.7L1368.2 439.1L1369.0 440.6L1369.8 442.6L1370.6 438.8L1371.3 443.4L1372.1 444.1L1372.9 442.7L1373.7 436.2L1374.5 438.1L1375.3 443.1L1376.1 442.3L1376.9 436.1L1377.7 438.5L1378.5 437.3L1379.3 440.1L1380.2 433.5L1381.0 435.4L1381.8 438.5L1382.6 439.2L1383.5 431.5L1384.3 435.6L1385.1 435.7L1385.9 437.0L1386.7 432.7L1387.6 436.8L1388.4 429.8L1389.2 428.6L1390.0 427.0L1390.8 429.2L1391.5 423.7L1392.3 423.2L1393.1 421.0L1393.9 418.1L1394.6 424.1L1395.4 417.2L1396.2 420.8L1397.0 417.1L1397.7 411.3L1398.5 415.6L1399.3 406.2L1400.1 414.8L1401.0 407.3L1401.8 409.7L1402.6 412.6L1403.5 408.6L1404.3 415.4L1405.1 410.1L1406.0 416.8L1406.8 410.7L1407.6 415.3L1408.5 413.1L1409.3 414.2L1410.1 416.7L1410.9 416.5L1411.6 417.4L1412.4 420.4L1413.2 417.3L1414.0 418.0L1414.8 423.0L1415.6 420.5L1416.3 426.7L1417.1 423.2L1417.9 424.4L1418.7 421.7L1419.5 422.8L1420.2 424.6L1421.0 430.1L1421.8 431.5L1422.6 435.0L1423.3 431.8L1424.1 435.2L1424.9 433.3L1425.7 432.1L1426.4 436.1L1427.2 439.6L1428.0 441.6L1428.8 440.5L1429.6 437.2L1430.4 432.7L1431.2 430.3L1431.9 427.6L1432.7 425.1L1433.5 424.6L1434.3 421.4L1435.1 421.5L1435.8 416.9L1436.6 415.9L1437.3 417.8L1438.1 415.3L1438.8 412.8L1439.6 412.0L1440.3 412.9L1441.1 414.9L1441.9 415.8L1442.7 419.9L1443.5 426.1L1444.3 425.2L1445.0 430.7L1445.8 436.4L1446.5 432.9L1447.3 436.7L1448.0 440.9L1448.8 444.8L1449.5 444.9L1450.3 443.2L1451.1 440.0L1451.9 439.3L1452.7 439.8L1453.5 436.2L1454.3 438.7L1455.1 431.0L1456.0 436.1L1456.8 434.8L1457.6 430.0L1458.4 426.4L1459.2 427.9L1460.0 428.9L1460.8 429.3L1461.6 428.9L1462.4 422.2L1463.2 420.1L1464.0 419.5L1464.8 425.8L1465.6 422.0L1466.4 416.7L1467.2 420.5L1468.0 421.8L1468.8 417.9L1469.6 413.8L1470.4 421.1L1471.2 420.0L1471.9 416.9L1472.7 423.0L1473.5 421.9L1474.3 423.7L1475.1 423.1L1475.9 423.7L1476.6 426.0L1477.4 428.0L1478.2 428.7L1479.0 434.0L1479.8 429.2L1480.6 432.2L1481.4 440.3L1482.1 439.5L1482.9 441.5L1483.7 443.5L1484.5 442.1L1485.3 445.3L1486.1 442.9L1486.9 441.5L1487.6 447.7L1488.4 444.7L1489.2 445.0L1490.0 436.7L1490.7 441.7L1491.5 437.5L1492.3 438.2L1493.1 438.8L1493.8 432.5L1494.6 434.5L1495.4 435.2L1496.2 437.4L1497.0 433.9L1497.8 431.8L1498.6 433.8L1499.4 433.2L1500.2 430.3L1501.0 432.0L1501.8 429.2L1502.7 426.5L1503.5 428.6L1504.3 426.3L1505.1 429.2L1505.9 428.9L1506.7 431.5L1507.5 430.0L1508.3 429.6L1509.1 431.1L1509.9 424.5L1510.6 424.9L1511.4 423.2L1512.2 421.6L1513.0 424.5L1513.8 424.0L1514.6 420.2L1515.3 426.4L1516.1 426.3L1516.9 418.2L1517.7 418.2L1518.5 419.2L1519.2 425.4L1520.0 427.0L1520.8 420.9L1521.6 421.0L1522.3 426.0L1523.1 424.8L1523.9 422.7L1524.7 423.2L1525.4 425.5L1526.2 425.9L1527.0 427.3L1527.8 430.7L1528.6 429.5L1529.3 430.7L1530.1 431.8L1530.9 438.8L1531.7 434.6L1532.5 438.6L1533.3 439.0L1534.0 439.3L1534.8 441.2L1535.6 439.2L1536.4 440.3L1537.2 443.8L1538.0 444.5L1538.8 439.7L1539.6 439.0L1540.4 444.8L1541.2 437.7L1542.0 443.2L1542.8 443.6L1543.5 437.2L1544.3 442.6L1545.1 436.6L1545.9 435.3L1546.7 437.1L1547.5 437.2L1548.3 439.0L1549.1 437.4L1549.9 440.1L1550.7 439.1L1551.5 434.6L1552.4 435.4L1553.2 440.1L1554.0 434.9L1554.8 442.0L1555.7 440.9L1556.5 436.0L1557.3 436.7L1558.1 436.5L1558.9 438.1L1559.8 436.7L1560.6 435.0L1561.4 436.9L1562.2 434.8L1563.0 434.5L1563.8 433.8L1564.6 435.7L1565.3 432.3L1566.1 430.3L1566.9 430.8L1567.7 425.1L1568.5 426.6L1569.3 426.3L1570.1 432.3L1570.9 433.9L1571.7 435.3L1572.5 433.9L1573.3 430.9L1574.1 431.7L1574.9 438.9L1575.7 440.8L1576.5 438.9L1577.3 443.1L1578.0 444.2L1578.8 443.7L1579.6 441.5L1580.4 443.2L1581.1 443.3L1581.9 444.7L1582.7 446.3L1583.5 443.5L1584.2 445.4L1585.0 446.7L1585.8 451.1L1586.6 452.9L1587.4 450.8L1588.2 445.4L1588.9 447.3L1589.7 448.0L1590.5 443.1L1591.3 441.9L1592.1 445.7L1592.9 441.8L1593.7 444.5L1594.4 439.8L1595.2 444.8L1596.0 439.5L1596.8 439.8L1597.6 440.1L1598.4 442.2L1599.1 441.8L1599.9 440.4L1600.7 438.4L1601.5 432.5L1602.3 433.5L1603.1 436.4L1603.9 440.2L1604.7 438.0L1605.5 433.5L1606.3 434.9L1607.1 440.0L1607.9 436.2L1608.7 439.2L1609.5 439.1L1610.3 438.5L1611.1 437.2L1611.9 437.5L1612.7 434.8L1613.5 432.9L1614.3 439.9L1615.1 432.2L1615.9 434.2L1616.7 437.8L1617.5 441.4L1618.4 435.8L1619.2 436.9L1620.0 442.6L1620.8 439.0L1621.7 440.3L1622.5 440.7L1623.3 438.8L1624.1 447.0L1624.9 445.7L1625.8 440.6L1626.6 442.1L1627.4 443.1L1628.2 445.2L1629.0 449.7L1629.9 443.5L1630.7 444.3L1631.5 445.1L1632.3 446.9L1633.2 450.3L1634.0 447.3L1634.8 450.5L1635.6 447.6L1636.4 446.7L1637.3 450.5L1638.1 448.2L1638.9 447.4" fill="none" stroke="#0000a0" stroke-width="5.0" stroke-linejoin="round" stroke-linecap="round"/>
<rect x="120.5" y="1663.5" width="1569.8" height="1170.8" fill="none" stroke="#000" stroke-width="5.2"/>
<path d="M120.5 2834.3V2860.0M232.6 2834.3V2848.5M344.8 2834.3V2860.0M456.9 2834.3V2848.5M569.0 2834.3V2860.0M681.1 2834.3V2848.5M793.3 2834.3V2860.0M905.4 2834.3V2848.5M1017.5 2834.3V2860.0M1129.7 2834.3V2848.5M1241.8 2834.3V2860.0M1353.9 2834.3V2848.5M1466.0 2834.3V2860.0M1578.2 2834.3V2848.5M1690.3 2834.3V2860.0" stroke="#000" stroke-width="5" fill="none"/>
<path d="M124.0 2550.8L126.5 2550.2L129.0 2550.7L131.5 2549.9L134.0 2550.0L136.5 2550.5L144.0 2550.2L146.5 2550.5L149.0 2550.3L151.5 2550.6L154.0 2550.4L159.0 2550.5L161.5 2550.9L166.5 2550.3L169.0 2550.8L171.5 2550.7L174.0 2550.0L176.5 2550.6L179.0 2550.7L186.5 2550.5L189.0 2550.1L191.5 2551.0L194.0 2550.4L196.5 2550.3L201.5 2551.1L204.0 2550.4L206.5 2550.8L209.0 2550.8L214.0 2551.2L216.5 2550.7L219.0 2550.6L224.0 2551.2L226.5 2551.2L229.0 2551.0L231.5 2551.7L234.0 2551.3L236.5 2551.4L239.0 2551.9L241.5 2551.5L246.5 2552.6L249.0 2552.8L251.5 2552.6L254.0 2552.9L256.5 2553.7L259.0 2554.2L261.5 2555.1L264.0 2554.9L268.5 2555.5L269.5 2555.3L274.0 2553.2L281.5 2548.9L282.8 2548.9L283.8 2549.1L284.5 2549.7L287.8 2554.9L288.5 2555.7L289.5 2556.0L291.5 2556.1L294.0 2555.6L296.5 2554.8L299.0 2553.5L301.5 2553.4L304.0 2552.3L304.8 2552.2L306.5 2552.3L309.0 2553.0L311.5 2552.5L314.0 2552.3L316.5 2552.9L319.0 2552.5L321.5 2553.1L326.5 2552.7L329.0 2553.8L331.5 2553.1L334.0 2553.8L336.5 2553.8L341.5 2554.9L343.8 2555.1L345.2 2555.7L349.0 2557.7L351.5 2560.3L354.0 2561.7L356.5 2564.5L359.8 2567.4L361.0 2568.2L362.5 2568.6L364.0 2568.2L365.0 2567.4L371.5 2559.9L374.0 2558.6L376.8 2556.4L379.0 2555.0L381.5 2554.1L384.0 2552.8L386.5 2552.5L389.0 2551.5L391.5 2552.1L394.0 2552.0L396.5 2551.6L399.0 2552.3L404.0 2553.2L407.0 2553.5L408.2 2554.0L412.2 2556.2L416.5 2557.7L419.0 2556.5L421.5 2556.5L424.0 2555.9L426.5 2554.9L428.8 2554.4L433.2 2554.7L435.2 2555.2L437.8 2556.1L439.0 2556.6L441.5 2558.6L445.0 2559.5L449.0 2560.5L451.5 2560.9L456.5 2561.1L459.0 2562.1L462.2 2562.2L464.0 2562.4L465.2 2562.8L467.5 2563.8L469.0 2564.7L471.8 2567.5L478.5 2571.0L479.0 2571.2L481.5 2571.5L484.0 2572.2L486.5 2573.9L489.0 2574.7L493.8 2578.4L495.2 2580.0L496.5 2581.8L497.5 2585.4L500.0 2598.0L500.5 2599.3L501.5 2600.8L503.0 2602.1L504.0 2602.3L506.5 2602.2L509.0 2602.5L511.5 2602.3L514.0 2602.9L516.5 2603.0L519.0 2602.1L523.0 2602.4L524.8 2603.0L526.5 2603.9L529.0 2606.4L531.5 2606.8L534.0 2607.7L536.5 2608.0L541.2 2609.2L542.5 2608.8L544.0 2607.6L546.0 2605.2L549.8 2599.9L554.0 2592.9L556.5 2586.9L558.2 2583.6L559.5 2581.5L561.0 2579.5L564.0 2576.2L566.5 2574.7L569.0 2572.6L571.5 2571.1L574.0 2570.2L576.5 2568.8L579.0 2567.1L581.2 2566.5L581.5 2566.6L582.0 2567.3L583.0 2569.7L585.8 2578.0L586.5 2579.3L587.2 2579.9L587.8 2579.7L588.2 2579.2L589.2 2577.6L593.0 2568.2L594.5 2565.4L595.0 2564.7L596.5 2563.7L599.0 2562.5L601.5 2562.1L606.5 2560.1L609.0 2559.6L611.5 2559.8L614.0 2558.2L616.5 2558.1L624.0 2556.6L629.0 2556.7L631.5 2556.6L634.0 2556.1L636.5 2556.7L639.0 2556.3L641.5 2556.9L646.5 2556.4L649.0 2557.3L651.5 2557.0L652.8 2557.6L654.0 2558.5L655.2 2559.1L656.5 2560.0L658.2 2562.3L659.5 2564.4L660.2 2566.1L661.0 2568.5L663.2 2578.4L665.2 2590.1L667.8 2615.9L668.2 2619.5L668.8 2621.1L669.0 2621.0L669.2 2620.4L670.0 2616.9L673.2 2591.0L675.2 2582.8L678.8 2570.5L680.2 2567.0L681.8 2564.7L684.0 2562.5L689.0 2558.9L694.0 2557.5L696.5 2557.2L699.0 2556.7L701.5 2557.2L706.5 2557.6L711.5 2557.0L714.0 2557.1L716.5 2557.5L719.0 2557.7L721.5 2557.3L724.0 2557.8L726.5 2557.7L729.0 2558.0L731.5 2557.9L734.0 2558.2L736.5 2557.4L739.0 2558.1L741.5 2558.2L746.5 2557.0L749.0 2556.9L751.5 2557.0L764.0 2556.2L766.5 2555.5L769.0 2555.6L771.5 2555.2L774.0 2555.4L781.5 2554.9L786.5 2555.5L789.0 2555.4L791.5 2555.1L794.0 2555.3L796.5 2556.2L800.0 2556.4L801.5 2557.1L803.0 2558.8L806.0 2563.2L808.2 2567.3L809.8 2573.6L813.2 2593.3L814.2 2596.5L814.8 2597.1L815.0 2597.1L815.8 2596.3L816.8 2593.7L820.0 2579.4L821.2 2574.9L821.8 2573.7L824.0 2569.5L826.5 2563.9L829.2 2560.0L830.5 2558.8L831.5 2558.1L832.8 2557.9L837.5 2558.4L839.0 2558.8L841.2 2560.5L844.2 2563.7L844.8 2564.5L845.5 2567.2L846.2 2571.3L848.2 2587.5L849.2 2600.2L850.2 2620.9L851.5 2651.7L853.0 2703.9L853.5 2710.2L853.8 2709.6L854.2 2705.1L855.0 2692.3L857.2 2640.3L858.8 2600.1L859.2 2589.9L859.8 2584.4L861.0 2577.8L862.0 2573.7L863.5 2569.4L865.0 2566.7L866.2 2565.5L869.8 2563.5L871.5 2562.8L876.5 2561.2L879.2 2561.1L881.5 2561.4L884.0 2562.0L886.5 2561.5L889.0 2562.3L891.5 2562.4L894.0 2561.8L899.0 2562.1L901.5 2562.6L904.0 2562.4L906.5 2562.7L909.8 2562.5L910.5 2562.9L911.2 2563.6L915.2 2568.7L916.0 2569.3L917.8 2570.0L919.0 2570.5L924.0 2571.5L926.5 2571.8L929.0 2571.8L931.5 2572.5L934.0 2572.8L939.0 2574.6L941.2 2574.9L944.0 2574.2L946.5 2575.0L949.0 2574.1L956.5 2574.2L959.0 2574.7L966.5 2574.0L969.0 2574.1L971.5 2572.9L976.5 2569.5L979.0 2568.7L981.5 2567.7L984.0 2567.9L989.0 2568.0L996.5 2568.7L999.0 2569.5L1002.8 2570.3L1005.2 2571.1L1006.5 2571.7L1009.0 2574.8L1010.5 2576.3L1011.5 2578.0L1012.8 2581.7L1016.5 2595.0L1020.5 2610.1L1022.0 2614.1L1022.5 2614.8L1023.0 2615.1L1023.8 2614.7L1024.5 2613.6L1026.2 2609.0L1029.8 2596.9L1033.5 2581.8L1035.2 2576.6L1038.8 2570.8L1041.5 2567.1L1044.0 2565.5L1046.2 2563.6L1047.8 2562.8L1049.0 2562.4L1051.5 2562.9L1054.0 2563.0L1056.5 2562.1L1064.0 2562.9L1065.0 2562.7L1065.2 2562.8L1066.2 2564.9L1068.2 2572.3L1068.8 2573.4L1069.2 2573.6L1070.0 2572.9L1071.0 2570.8L1074.5 2559.7L1075.2 2558.2L1076.0 2557.6L1081.5 2557.4L1084.0 2558.3L1086.5 2557.4L1089.0 2558.3L1091.5 2557.6L1094.0 2557.4L1096.5 2558.1L1099.0 2558.1L1101.5 2557.8L1104.0 2558.1L1106.5 2558.0L1114.0 2557.4L1116.5 2558.2L1119.0 2557.4L1121.5 2558.0L1124.0 2557.4L1126.5 2558.0L1129.0 2557.4L1131.5 2557.4L1134.0 2557.8L1136.5 2557.4L1139.0 2557.3L1141.5 2557.9L1144.0 2558.2L1146.5 2557.8L1149.0 2558.1L1151.5 2558.0L1156.5 2558.3L1159.0 2557.9L1161.5 2558.2L1166.5 2557.8L1169.0 2558.2L1174.0 2557.5L1179.0 2557.3L1184.0 2556.5L1186.5 2556.3L1189.0 2556.6L1191.5 2555.9L1194.0 2555.6L1196.5 2555.4L1199.0 2555.8L1201.5 2555.7L1204.0 2555.1L1206.5 2555.3L1211.5 2555.0L1216.5 2555.4L1226.5 2554.5L1229.0 2554.8L1231.5 2555.5L1234.0 2554.9L1236.5 2555.0L1239.0 2554.6L1241.5 2554.6L1244.0 2555.5L1249.0 2554.7L1251.5 2555.1L1254.0 2555.2L1259.0 2554.8L1261.5 2555.2L1264.0 2554.6L1266.5 2555.2L1269.0 2555.1L1270.5 2555.8L1272.0 2557.0L1273.5 2558.7L1275.0 2560.9L1279.0 2567.9L1279.8 2570.3L1280.5 2573.7L1282.2 2585.0L1283.8 2597.5L1286.5 2647.6L1287.0 2653.3L1287.5 2655.5L1288.0 2654.1L1288.8 2647.9L1290.8 2620.7L1291.8 2610.3L1294.8 2590.4L1296.0 2584.4L1297.5 2579.1L1299.5 2573.5L1301.5 2568.7L1303.0 2566.3L1305.8 2562.6L1309.0 2559.4L1311.5 2558.0L1316.5 2554.5L1319.0 2553.6L1321.5 2552.4L1324.0 2552.7L1329.0 2552.0L1331.5 2552.7L1334.0 2552.6L1336.5 2552.9L1339.0 2552.2L1341.5 2553.2L1344.0 2552.6L1349.0 2552.5L1351.5 2553.0L1352.2 2553.6L1353.0 2555.1L1354.0 2557.9L1356.0 2566.1L1357.0 2575.6L1359.0 2601.5L1359.8 2607.5L1360.2 2608.9L1360.5 2608.6L1360.8 2607.6L1361.2 2604.1L1363.8 2574.9L1364.2 2571.1L1364.8 2569.5L1365.2 2569.7L1366.0 2570.9L1368.8 2578.8L1371.2 2583.8L1372.8 2586.0L1373.5 2586.5L1374.0 2586.5L1374.5 2585.0L1375.0 2582.2L1377.0 2567.0L1377.5 2564.1L1378.0 2562.4L1378.2 2562.1L1379.8 2562.2L1385.8 2564.3L1388.2 2564.8L1389.8 2564.7L1390.5 2564.1L1391.5 2562.7L1395.0 2555.6L1395.8 2554.7L1396.5 2554.2L1399.0 2554.1L1404.0 2552.7L1406.5 2553.0L1409.0 2552.5L1411.5 2552.6L1414.0 2552.3L1416.5 2551.8L1419.0 2551.7L1421.5 2552.0L1426.5 2551.2L1429.0 2551.2L1431.5 2551.6L1436.5 2551.2L1439.0 2550.6L1441.5 2550.8L1449.0 2550.9L1454.0 2550.6L1456.5 2550.2L1461.5 2550.6L1464.0 2550.2L1466.5 2550.1L1469.0 2550.5L1471.5 2550.7L1474.0 2550.1L1479.0 2550.5L1481.5 2549.8L1486.5 2550.2L1489.0 2549.8L1491.5 2549.9L1494.0 2550.5L1496.5 2549.9L1499.0 2549.7L1501.5 2550.1L1504.0 2549.7L1506.5 2549.9L1509.0 2550.6L1511.5 2550.4L1514.0 2549.7L1516.5 2549.8L1519.0 2549.7L1521.5 2549.8L1524.0 2550.4L1526.5 2550.5L1529.0 2550.2L1531.5 2549.7L1534.0 2550.1L1536.5 2550.3L1539.0 2549.7L1541.5 2550.2L1544.0 2550.4L1546.5 2550.0L1549.0 2550.4L1551.5 2549.8L1554.0 2549.9L1556.5 2550.4L1561.5 2550.4L1564.0 2549.8L1566.5 2550.6L1569.0 2549.8L1571.5 2550.3L1574.0 2550.0L1576.5 2550.3L1579.0 2550.9L1584.0 2551.2L1586.5 2550.9L1589.0 2552.0L1594.0 2552.7L1596.5 2552.2L1599.0 2552.8L1601.5 2552.9L1604.0 2553.8L1606.5 2554.3L1614.0 2554.6L1616.5 2555.8L1617.2 2555.9L1619.0 2556.2L1624.0 2556.4L1625.5 2556.1L1627.0 2555.4L1631.5 2552.1L1633.0 2551.7L1636.5 2551.6L1639.0 2553.4L1641.5 2554.3L1649.0 2561.7L1650.8 2564.2L1652.8 2567.7L1654.2 2571.3L1656.8 2580.6L1657.8 2586.3L1658.8 2594.9L1659.8 2606.5L1662.2 2645.1L1666.2 2758.8L1666.8 2768.3L1667.0 2770.8L1667.2 2771.4L1667.5 2769.2L1668.0 2757.4L1669.2 2711.0L1670.5 2679.7L1672.5 2638.2L1674.0 2616.7L1676.5 2593.4L1677.8 2584.6L1678.8 2579.3L1681.0 2571.3L1682.8 2566.5L1685.2 2561.5L1686.2 2560.5L1686.8 2560.4" fill="none" stroke="#990000" stroke-width="5.0" stroke-linejoin="round" stroke-linecap="round"/>
<path d="M124.0 2238.0L126.5 2237.7L129.0 2236.6L131.5 2236.5L134.5 2235.7L149.0 2235.3L151.5 2235.8L156.5 2235.6L159.0 2236.1L161.5 2235.9L166.5 2236.1L174.0 2236.7L176.5 2236.7L189.0 2237.8L191.5 2238.5L194.0 2238.7L196.5 2238.4L199.0 2238.4L204.0 2239.1L206.5 2239.2L209.0 2238.7L211.5 2239.0L214.0 2238.7L221.5 2239.3L224.0 2238.9L231.5 2239.5L234.0 2239.3L239.0 2241.0L241.5 2241.2L244.0 2242.1L249.0 2243.2L254.5 2243.7L261.5 2245.3L264.0 2246.2L266.5 2246.4L269.0 2246.9L278.0 2247.6L280.2 2247.5L283.0 2246.8L284.0 2246.4L286.5 2245.1L291.5 2243.3L296.5 2242.9L299.0 2242.2L306.5 2241.8L309.0 2242.0L311.5 2241.7L324.0 2242.2L326.5 2241.8L329.0 2242.3L334.0 2242.1L341.5 2243.0L346.5 2242.8L349.0 2243.6L351.5 2243.8L352.8 2244.4L362.0 2249.5L366.5 2252.7L369.0 2254.9L370.5 2255.6L372.0 2255.8L373.5 2255.4L374.8 2254.5L376.5 2252.7L379.0 2249.4L381.0 2247.6L386.5 2244.2L389.0 2242.4L391.5 2241.2L393.2 2240.8L399.0 2240.3L401.5 2240.6L406.5 2240.1L414.0 2240.6L420.5 2240.6L425.8 2241.1L431.5 2242.3L436.5 2242.7L443.8 2244.5L446.5 2245.4L449.0 2245.7L455.5 2248.8L456.8 2249.8L460.5 2253.7L461.5 2254.4L462.2 2254.7L464.0 2254.9L466.5 2255.5L469.0 2255.2L471.5 2255.3L474.0 2255.7L479.0 2255.8L481.5 2256.3L484.0 2256.3L486.5 2257.6L489.0 2258.4L491.0 2259.3L492.0 2260.2L493.2 2262.0L496.5 2268.2L497.5 2271.7L500.5 2285.9L501.5 2288.9L502.0 2289.7L502.5 2289.8L503.2 2289.4L504.0 2288.3L506.5 2283.0L507.5 2281.4L508.2 2280.9L511.5 2280.4L514.0 2280.1L516.5 2280.3L519.0 2280.1L521.5 2280.4L524.0 2280.4L526.5 2281.3L533.8 2285.5L535.5 2285.9L537.0 2285.9L539.2 2285.6L544.0 2284.5L546.2 2283.7L547.5 2282.5L549.0 2279.5L550.8 2274.8L553.8 2265.6L555.2 2262.3L556.0 2261.1L558.5 2258.2L562.5 2254.4L565.8 2252.2L572.5 2248.7L574.8 2247.7L579.0 2246.6L581.2 2246.5L582.2 2246.7L588.2 2250.0L589.0 2250.2L590.0 2250.1L591.0 2249.6L592.0 2248.7L596.0 2244.2L597.0 2243.5L597.8 2243.2L609.0 2242.2L611.5 2242.4L621.5 2241.6L624.0 2241.7L629.0 2241.0L638.2 2238.6L646.5 2237.2L653.5 2239.1L657.2 2241.0L658.2 2241.7L659.0 2242.7L659.8 2244.5L660.8 2247.9L664.2 2263.4L667.2 2281.2L668.0 2284.0L668.5 2285.0L668.8 2285.2L669.2 2284.6L670.0 2281.9L672.5 2265.7L673.2 2261.9L674.8 2257.2L677.2 2250.6L679.2 2246.3L681.0 2243.8L681.8 2243.2L686.5 2241.1L689.0 2240.8L692.2 2239.8L696.5 2239.3L699.0 2238.7L701.5 2239.0L704.0 2238.4L706.5 2238.5L714.0 2237.7L716.5 2237.8L719.0 2237.2L724.0 2236.9L726.5 2236.9L729.0 2236.5L731.5 2236.7L734.0 2236.2L739.0 2236.2L741.5 2235.9L744.0 2235.9L746.5 2236.2L751.5 2235.8L754.0 2236.2L756.5 2236.1L761.5 2236.3L769.0 2235.8L771.5 2236.2L776.5 2236.5L779.0 2236.2L784.0 2236.8L787.2 2236.5L794.0 2237.1L796.5 2237.5L799.5 2237.5L801.2 2238.3L803.5 2240.4L805.8 2243.6L808.2 2247.8L809.5 2251.9L813.0 2267.4L814.0 2270.3L814.8 2271.0L815.2 2270.9L815.8 2270.2L816.8 2267.7L820.2 2254.0L821.5 2250.5L825.2 2246.0L827.5 2243.9L829.0 2243.0L830.0 2242.9L833.0 2243.1L834.8 2243.5L837.0 2244.5L841.5 2247.2L842.5 2248.3L843.5 2250.2L844.8 2253.6L845.8 2257.3L847.0 2263.2L847.5 2267.0L848.2 2277.3L852.2 2347.5L853.0 2355.9L853.5 2357.7L853.8 2357.3L854.2 2354.3L855.0 2345.3L858.0 2295.1L859.8 2280.5L861.5 2268.7L863.2 2260.2L865.0 2255.7L867.0 2251.6L869.8 2247.1L871.5 2244.8L872.8 2243.9L874.8 2243.3L879.0 2243.2L886.5 2245.8L894.0 2249.8L897.5 2251.1L899.0 2251.4L901.5 2251.0L904.0 2249.1L906.5 2247.9L909.8 2245.8L911.2 2245.1L912.2 2244.9L916.5 2245.2L919.0 2245.0L924.0 2245.3L926.5 2245.8L929.0 2245.7L930.5 2245.8L932.0 2246.7L937.2 2252.1L938.8 2253.1L940.0 2253.5L944.0 2253.1L946.5 2251.7L951.8 2249.2L954.0 2248.6L955.5 2248.7L957.0 2249.4L958.5 2250.4L961.5 2253.2L963.5 2255.5L965.2 2258.8L968.8 2267.3L970.0 2269.3L971.0 2270.0L971.8 2269.8L972.8 2268.8L978.5 2259.4L979.8 2258.0L981.5 2256.6L986.5 2254.5L989.0 2253.8L991.5 2252.9L996.5 2252.2L999.0 2251.5L1001.5 2251.0L1008.5 2250.8L1009.5 2251.4L1010.8 2252.8L1013.2 2256.4L1015.0 2259.4L1016.2 2262.8L1020.0 2276.2L1021.0 2278.5L1021.5 2279.1L1022.0 2279.3L1023.0 2278.8L1024.0 2277.3L1025.2 2274.3L1028.2 2265.5L1029.8 2261.7L1034.8 2251.9L1036.5 2249.1L1037.5 2248.3L1038.5 2248.0L1046.5 2247.8L1050.8 2247.9L1053.0 2248.6L1055.0 2250.0L1058.2 2253.2L1061.2 2256.9L1062.0 2258.5L1062.8 2260.9L1066.0 2274.2L1066.5 2275.7L1067.8 2278.5L1071.5 2285.3L1074.0 2288.3L1079.2 2295.8L1080.8 2297.5L1082.0 2298.5L1083.2 2299.0L1084.2 2298.9L1085.2 2298.3L1086.5 2297.0L1088.2 2294.4L1091.5 2289.0L1096.5 2282.4L1099.0 2278.6L1101.8 2275.5L1106.5 2268.4L1109.0 2265.2L1110.8 2263.6L1112.5 2262.5L1113.8 2262.2L1115.2 2262.3L1117.2 2263.0L1119.0 2263.9L1121.5 2266.2L1124.0 2267.8L1129.0 2272.9L1134.0 2279.5L1136.5 2282.6L1138.0 2284.8L1140.8 2289.5L1146.8 2300.9L1149.0 2304.5L1151.5 2307.4L1156.5 2313.9L1159.8 2316.4L1161.0 2317.0L1162.2 2317.4L1164.0 2317.4L1166.5 2317.0L1171.5 2314.7L1176.5 2312.8L1179.0 2311.2L1181.5 2309.1L1182.5 2308.6L1186.0 2307.1L1187.8 2306.9L1190.0 2307.4L1191.5 2308.1L1196.5 2312.6L1199.0 2315.3L1201.5 2316.8L1204.8 2319.5L1208.2 2321.9L1209.0 2322.3L1209.8 2322.3L1213.5 2321.5L1216.5 2320.5L1219.0 2318.9L1226.5 2316.1L1229.0 2315.7L1234.0 2313.9L1236.5 2313.5L1240.2 2311.6L1242.5 2310.1L1244.5 2308.4L1249.0 2303.9L1252.0 2300.2L1257.0 2295.3L1261.5 2290.1L1262.8 2289.0L1264.0 2288.1L1265.2 2287.8L1267.5 2287.8L1269.0 2288.2L1270.8 2289.5L1274.0 2292.7L1276.2 2295.6L1277.2 2297.3L1278.5 2300.1L1279.5 2303.1L1281.8 2312.9L1283.0 2325.6L1287.2 2386.3L1288.0 2393.7L1288.5 2396.1L1288.8 2396.3L1289.0 2396.1L1289.5 2394.6L1290.5 2388.5L1295.5 2345.3L1296.8 2336.3L1297.8 2332.1L1299.5 2326.2L1301.0 2321.8L1302.5 2318.3L1306.2 2310.8L1309.0 2304.8L1310.5 2302.6L1312.0 2301.4L1313.0 2301.3L1314.0 2301.8L1315.2 2303.2L1317.5 2307.4L1319.8 2313.4L1320.8 2320.4L1323.2 2345.6L1324.0 2350.3L1324.5 2351.5L1324.8 2351.4L1325.2 2349.4L1325.8 2345.4L1327.8 2324.5L1330.5 2305.8L1332.2 2296.5L1333.5 2292.6L1336.0 2288.3L1338.0 2286.0L1340.8 2284.1L1341.5 2283.8L1344.0 2284.0L1349.0 2283.8L1354.5 2284.1L1355.0 2284.5L1355.5 2285.8L1357.0 2293.5L1358.8 2307.2L1359.2 2314.8L1360.8 2349.6L1361.2 2356.4L1361.5 2357.3L1362.0 2356.1L1362.5 2353.0L1364.8 2329.6L1365.5 2324.2L1366.8 2320.6L1369.2 2316.4L1370.2 2314.4L1373.5 2305.3L1375.0 2302.1L1376.0 2301.0L1378.0 2299.5L1379.0 2298.9L1381.5 2298.2L1384.2 2297.0L1387.0 2295.1L1388.2 2293.9L1389.2 2290.5L1391.2 2279.7L1392.0 2276.8L1393.2 2274.7L1395.0 2272.7L1399.0 2269.5L1404.0 2268.0L1406.5 2266.7L1409.0 2266.2L1413.8 2263.8L1416.5 2261.6L1419.0 2258.9L1424.0 2255.4L1425.2 2255.2L1426.5 2255.2L1429.0 2254.4L1431.5 2254.7L1434.0 2254.3L1436.5 2254.3L1439.0 2254.0L1441.5 2254.0L1444.0 2252.9L1448.0 2251.5L1450.0 2251.0L1451.8 2250.8L1454.0 2250.8L1461.5 2252.4L1464.0 2252.6L1466.5 2253.4L1474.0 2254.0L1475.2 2253.7L1476.5 2253.1L1482.8 2248.7L1484.0 2248.1L1484.8 2248.0L1491.5 2248.5L1496.5 2248.4L1499.0 2248.8L1501.5 2248.4L1506.5 2248.9L1509.0 2248.5L1514.0 2248.9L1519.0 2248.8L1524.0 2249.0L1529.0 2249.0L1536.5 2248.5L1544.0 2248.8L1546.5 2248.6L1556.5 2250.0L1559.0 2250.0L1561.5 2250.9L1564.0 2251.0L1566.5 2252.0L1568.2 2252.4L1570.0 2253.1L1571.5 2253.8L1574.0 2255.7L1579.0 2256.7L1584.0 2256.7L1589.0 2256.3L1591.5 2256.5L1594.0 2256.4L1597.0 2256.6L1598.0 2256.3L1599.0 2255.7L1601.0 2253.9L1602.0 2253.3L1606.5 2253.5L1609.0 2253.2L1612.5 2253.5L1613.0 2254.3L1613.8 2257.2L1615.8 2268.0L1617.2 2278.0L1617.8 2279.6L1618.0 2279.6L1618.5 2279.0L1619.0 2277.8L1621.0 2270.7L1624.0 2261.8L1625.5 2258.4L1629.0 2253.2L1630.5 2251.5L1633.5 2248.9L1634.2 2248.6L1635.5 2248.6L1639.0 2249.5L1641.5 2251.3L1644.0 2252.5L1648.0 2255.7L1649.8 2257.6L1651.8 2260.7L1653.0 2263.7L1654.2 2268.2L1655.8 2275.6L1657.5 2291.0L1659.8 2314.7L1661.0 2330.5L1661.8 2343.6L1664.8 2415.8L1666.0 2433.9L1666.5 2438.0L1666.8 2438.4L1667.2 2437.0L1668.0 2431.0L1669.2 2414.0L1670.8 2357.6L1672.0 2323.0L1673.0 2304.6L1674.5 2287.9L1675.2 2283.3L1677.2 2274.8L1678.5 2270.9L1680.0 2268.0L1680.5 2267.5L1681.0 2267.3L1682.8 2267.3L1684.0 2267.7L1685.5 2269.1L1686.9 2271.9" fill="none" stroke="#930086" stroke-width="5.0" stroke-linejoin="round" stroke-linecap="round"/>
<path d="M123.8 1712.0L126.8 1711.8L129.8 1712.0L135.8 1711.9L138.8 1711.7L141.8 1712.0L144.8 1711.7L153.8 1712.0L156.8 1711.8L162.8 1712.2L165.8 1711.9L168.8 1712.1L171.8 1711.9L174.8 1712.1L177.8 1712.0L180.8 1712.4L183.8 1712.3L192.8 1713.0L195.8 1712.9L198.8 1713.1L201.8 1713.5L204.8 1713.5L207.8 1713.9L216.8 1714.2L222.8 1713.8L249.8 1714.1L252.8 1713.9L261.8 1714.0L273.8 1712.5L276.8 1711.8L283.1 1711.2L288.8 1711.3L291.8 1711.8L294.8 1711.8L297.8 1712.3L300.8 1712.5L303.8 1713.1L309.8 1713.9L313.3 1714.7L317.8 1716.3L324.8 1719.5L326.8 1721.3L333.8 1728.6L335.3 1729.7L336.8 1730.4L342.8 1730.3L345.8 1730.0L354.8 1729.7L357.8 1729.3L360.8 1729.3L363.8 1728.9L365.8 1728.8L366.3 1729.0L367.3 1731.1L368.3 1734.9L374.1 1762.2L375.3 1767.1L378.1 1773.6L380.1 1777.3L381.1 1778.7L382.3 1780.0L383.3 1780.7L384.1 1780.9L384.8 1780.6L385.3 1780.1L386.6 1777.6L388.1 1773.1L389.6 1767.6L391.6 1759.1L394.1 1740.1L395.1 1734.1L396.8 1728.6L398.8 1723.6L400.1 1721.0L401.6 1718.5L403.1 1716.6L404.3 1715.5L405.8 1714.7L408.8 1713.6L414.8 1712.1L423.3 1710.9L429.3 1710.8L435.8 1711.2L441.8 1711.1L444.8 1711.6L450.8 1712.2L456.8 1712.5L459.8 1713.1L462.8 1713.3L471.8 1715.2L477.8 1717.7L480.1 1719.3L481.6 1721.1L482.8 1723.4L484.3 1727.0L486.1 1731.8L487.6 1737.8L490.8 1753.9L492.3 1760.3L495.8 1772.7L497.1 1775.6L497.6 1776.2L498.1 1776.5L500.6 1776.2L503.6 1775.3L504.8 1774.8L507.1 1773.3L508.8 1770.2L512.3 1761.0L513.8 1758.1L517.8 1753.1L525.3 1745.3L529.0 1739.6L530.3 1738.0L531.5 1737.2L532.0 1737.2L532.5 1737.5L533.5 1738.5L536.3 1742.4L537.0 1742.9L537.8 1743.0L538.5 1742.5L539.5 1741.4L543.8 1734.6L544.8 1733.6L545.5 1733.3L549.8 1733.8L552.8 1735.0L555.5 1735.7L557.3 1736.0L558.8 1736.0L559.8 1735.7L561.0 1734.9L567.0 1730.0L568.5 1729.3L569.8 1729.2L571.0 1729.7L572.0 1730.5L573.8 1732.4L576.5 1736.0L577.5 1737.0L579.0 1738.0L583.0 1740.1L587.8 1741.5L589.5 1741.7L591.0 1741.1L592.5 1739.8L594.3 1737.8L598.0 1732.7L600.5 1730.3L603.8 1727.9L615.8 1720.9L619.0 1718.8L621.3 1717.6L623.3 1716.9L625.0 1716.5L626.3 1716.5L627.3 1716.7L629.3 1718.0L633.0 1721.5L634.5 1722.7L636.0 1723.4L637.5 1723.5L638.8 1723.0L640.0 1722.2L646.5 1716.1L648.8 1714.4L656.5 1710.8L659.0 1709.9L661.8 1709.3L669.8 1708.3L675.8 1708.1L678.8 1707.7L684.8 1707.5L696.8 1707.6L699.8 1708.1L702.8 1708.1L708.8 1709.2L711.8 1709.6L720.0 1711.4L722.8 1712.6L729.8 1716.7L732.3 1717.4L735.0 1717.7L736.5 1717.4L738.0 1716.7L744.0 1712.6L745.8 1711.5L747.3 1710.9L748.3 1710.7L749.5 1710.8L753.8 1711.3L758.8 1712.3L760.8 1712.3L765.8 1710.7L768.8 1708.7L774.8 1705.8L783.8 1703.9L792.8 1703.1L798.8 1703.2L807.8 1702.9L813.3 1703.1L814.3 1703.8L815.0 1704.8L816.0 1706.6L817.3 1709.6L819.0 1714.7L820.5 1722.2L824.8 1753.6L827.3 1774.4L829.5 1794.2L832.3 1824.3L833.0 1828.9L833.3 1829.6L833.5 1829.7L834.0 1829.0L834.8 1826.0L836.0 1817.1L839.3 1788.8L842.3 1757.8L843.5 1746.8L846.5 1727.9L847.8 1721.7L848.8 1718.1L849.3 1716.8L851.0 1713.7L853.8 1709.6L856.3 1707.0L857.5 1706.1L858.8 1705.4L860.0 1705.2L861.8 1705.4L864.8 1705.3L876.8 1707.8L878.3 1708.8L880.3 1711.2L887.0 1721.4L888.5 1723.2L889.8 1724.3L891.8 1725.1L897.8 1726.1L903.8 1726.6L907.8 1727.6L909.0 1728.3L910.3 1729.4L913.0 1733.2L916.3 1739.5L918.3 1745.5L924.0 1770.9L929.5 1792.3L932.0 1803.0L934.5 1816.3L936.8 1831.3L938.3 1844.5L939.8 1862.1L940.5 1876.6L942.5 1930.7L944.5 1972.3L948.0 2035.1L948.8 2045.2L949.3 2048.9L949.5 2049.5L949.8 2049.1L950.0 2047.6L950.8 2037.5L954.8 1948.8L956.8 1898.4L958.5 1839.2L959.3 1821.6L960.3 1809.6L961.5 1797.9L962.8 1789.0L964.0 1782.2L965.3 1776.7L966.5 1772.3L972.0 1758.2L976.3 1742.3L977.3 1739.1L978.3 1736.9L978.8 1736.2L980.0 1735.5L985.0 1733.8L986.3 1733.0L987.0 1732.2L988.5 1730.1L990.0 1727.4L995.3 1716.3L996.3 1714.7L997.3 1713.5L1001.5 1709.9L1008.8 1704.9L1015.5 1697.8L1018.0 1695.5L1020.3 1694.1L1021.0 1693.9L1022.0 1694.0L1023.0 1695.0L1025.5 1699.8L1026.8 1701.3L1027.3 1701.4L1028.3 1701.2L1031.0 1699.6L1032.0 1699.2L1032.8 1699.2L1033.5 1699.9L1034.8 1702.5L1036.8 1707.8L1037.8 1711.8L1038.8 1717.9L1039.5 1728.1L1041.3 1762.2L1044.8 1822.7L1049.3 1892.1L1051.3 1913.6L1056.0 1948.7L1058.3 1970.4L1063.5 2038.8L1069.5 2126.9L1070.3 2133.2L1070.5 2133.5L1071.0 2130.6L1071.8 2119.2L1077.0 2010.6L1078.8 1980.2L1085.0 1899.8L1088.0 1868.4L1090.8 1845.2L1094.5 1818.0L1096.5 1804.7L1098.3 1795.6L1099.0 1792.7L1101.3 1786.1L1103.3 1780.7L1105.0 1776.8L1106.3 1774.6L1107.5 1773.1L1108.5 1772.5L1109.5 1772.6L1110.3 1773.0L1111.3 1774.1L1113.0 1776.9L1120.5 1793.5L1122.8 1799.4L1124.0 1803.2L1128.0 1817.4L1131.0 1832.2L1136.8 1865.5L1151.8 1956.1L1153.3 1963.3L1156.3 1974.5L1158.0 1979.7L1159.3 1981.9L1160.0 1982.3L1160.8 1982.0L1161.5 1981.2L1162.5 1979.5L1164.5 1974.5L1166.8 1967.2L1168.5 1958.2L1172.0 1934.5L1173.5 1926.1L1176.3 1914.0L1182.0 1892.0L1186.3 1872.9L1188.3 1866.1L1190.5 1861.8L1192.5 1858.9L1193.8 1857.8L1194.5 1857.5L1195.0 1857.6L1196.3 1858.8L1197.5 1860.9L1199.3 1864.8L1202.0 1871.7L1203.5 1876.4L1205.3 1883.1L1209.8 1903.4L1212.3 1916.6L1215.5 1936.3L1219.5 1962.9L1223.5 1991.9L1232.8 2064.9L1238.0 2104.6L1240.8 2123.0L1245.8 2152.3L1248.8 2166.2L1251.3 2174.8L1253.3 2180.3L1254.8 2182.8L1258.3 2186.7L1260.5 2188.4L1262.3 2188.9L1263.8 2188.8L1264.8 2188.3L1266.3 2187.2L1268.0 2185.7L1271.8 2181.2L1275.5 2175.7L1277.5 2171.2L1282.0 2157.0L1284.0 2152.0L1285.0 2150.3L1287.8 2146.9L1289.5 2145.0L1291.3 2143.5L1292.5 2142.7L1293.8 2142.3L1294.8 2142.1L1295.8 2142.4L1297.5 2143.8L1301.8 2148.9L1303.0 2149.9L1304.3 2150.4L1306.3 2150.3L1311.3 2149.8L1317.3 2148.8L1318.3 2148.2L1319.5 2146.7L1321.0 2144.0L1322.5 2140.7L1327.5 2127.1L1329.5 2122.2L1341.8 2096.6L1345.3 2090.5L1347.8 2086.7L1356.0 2076.3L1359.8 2071.2L1363.8 2063.8L1366.0 2058.9L1380.8 2024.8L1386.8 2011.5L1389.8 2005.3L1393.8 1994.9L1395.8 1990.8L1397.0 1989.5L1397.5 1989.3L1398.3 1989.3L1400.3 1990.1L1402.5 1991.9L1404.8 1994.4L1406.3 1996.5L1407.3 1998.8L1410.0 2006.9L1411.3 2009.4L1411.8 2010.0L1412.3 2010.1L1412.8 2009.9L1413.5 2008.9L1415.3 2004.4L1419.8 1988.8L1428.8 1950.5L1430.0 1946.3L1431.0 1944.5L1431.5 1944.3L1432.0 1944.7L1432.5 1945.7L1433.3 1948.2L1434.8 1956.0L1436.5 1967.7L1437.5 1977.6L1442.8 2044.2L1443.8 2052.2L1444.0 2053.1L1444.3 2053.6L1444.5 2053.6L1445.0 2052.8L1445.8 2050.1L1448.8 2032.8L1451.3 2022.3L1453.5 2013.8L1455.3 2009.3L1457.0 2006.9L1459.3 2004.7L1461.8 2002.9L1467.8 1999.7L1470.0 1997.7L1472.0 1995.4L1473.0 1993.4L1474.0 1990.8L1477.3 1979.9L1478.8 1975.5L1480.0 1972.7L1482.5 1968.2L1488.5 1959.3L1491.8 1955.4L1495.8 1949.9L1506.8 1933.0L1514.8 1919.4L1524.5 1900.5L1527.5 1895.5L1529.3 1893.2L1535.3 1886.0L1537.3 1884.0L1539.5 1882.5L1541.8 1881.6L1544.3 1881.7L1546.3 1882.4L1548.8 1884.1L1551.0 1886.3L1554.3 1890.1L1555.8 1893.2L1557.3 1897.9L1560.0 1909.6L1562.0 1919.3L1563.0 1925.3L1567.8 1962.9L1572.0 1994.9L1573.8 2006.6L1576.3 2019.6L1577.3 2023.9L1577.8 2025.4L1578.3 2026.2L1578.8 2026.3L1579.3 2026.1L1580.5 2024.1L1581.8 2020.8L1585.3 2007.9L1586.8 1999.6L1590.0 1978.3L1595.5 1944.7L1597.3 1936.1L1598.8 1931.6L1601.5 1926.7L1603.5 1923.8L1605.5 1922.0L1607.0 1921.6L1607.8 1922.1L1608.5 1923.3L1612.3 1932.7L1613.0 1934.0L1613.8 1934.8L1617.8 1938.1L1619.3 1938.9L1620.5 1939.3L1621.5 1939.4L1622.0 1939.0L1623.0 1936.6L1624.3 1931.5L1627.5 1915.2L1633.8 1873.0L1637.8 1850.3L1640.3 1837.4L1642.3 1828.8L1647.0 1811.9L1650.3 1802.0L1652.8 1796.3L1654.0 1794.2L1655.3 1792.9L1659.0 1790.0L1662.8 1787.7L1664.8 1787.1L1666.8 1787.1L1668.3 1787.6L1670.3 1788.9L1672.0 1790.7L1674.5 1794.1L1678.3 1800.1L1679.8 1802.9L1681.3 1806.4L1683.0 1811.2L1687.4 1825.2" fill="none" stroke="#000080" stroke-width="5.0" stroke-linejoin="round" stroke-linecap="round"/>
<path d="M124 1900.6H303" stroke="#000080" stroke-width="5"/>
<path d="M124 2409.1H303" stroke="#930086" stroke-width="5"/>
<path d="M124 2724.8H303" stroke="#990000" stroke-width="6"/>
<text transform="translate(0 303.30) scale(1.0000 1.0400)" x="1180.58 1199.19 1242.59 1289.49 1308.29 1356.52" y="0" font-family='"Liberation Sans",Arial,sans-serif' font-weight="bold" font-style="normal" font-size="55.50" fill="#0000a0" stroke="#0000a0" stroke-width="1.15" stroke-linejoin="round">[BMIM]</text>
<text transform="translate(0 303.30) scale(1.0000 1.0400)" x="1395.59 1434.09 1484.83" y="0" font-family='"Liberation Sans",Arial,sans-serif' font-weight="bold" font-style="normal" font-size="55.50" fill="#0000a0" stroke="#0000a0" stroke-width="1.15" stroke-linejoin="round">PMo</text>
<text transform="translate(0 325.00) scale(1.0000 1.0400)" x="1376.98" y="0" font-family='"Liberation Sans",Arial,sans-serif' font-weight="bold" font-style="normal" font-size="31.50" fill="#0000a0">3</text>
<text transform="translate(0 325.00) scale(1.0000 1.0400)" x="1520.42 1541.11" y="0" font-family='"Liberation Sans",Arial,sans-serif' font-weight="bold" font-style="normal" font-size="31.50" fill="#0000a0">12</text>
<text transform="translate(0 684.50) scale(1.0000 1.0400)" x="987.78 1006.39 1049.79 1096.69 1115.49 1163.72" y="0" font-family='"Liberation Sans",Arial,sans-serif' font-weight="bold" font-style="normal" font-size="55.50" fill="#930086" stroke="#930086" stroke-width="1.15" stroke-linejoin="round">[BMIM]</text>
<text transform="translate(0 684.50) scale(1.0000 1.0400)" x="1203.29 1241.79 1291.83" y="0" font-family='"Liberation Sans",Arial,sans-serif' font-weight="bold" font-style="normal" font-size="55.50" fill="#930086" stroke="#930086" stroke-width="1.15" stroke-linejoin="round">PMo</text>
<text transform="translate(0 684.50) scale(1.0000 1.0400)" x="1364.13 1423.05 1460.59 1478.29 1512.13 1532.34" y="0" font-family='"Liberation Sans",Arial,sans-serif' font-weight="bold" font-style="normal" font-size="55.50" fill="#930086" stroke="#930086" stroke-width="1.15" stroke-linejoin="round">@ZIF-8</text>
<text transform="translate(0 706.50) scale(1.0000 1.0400)" x="1184.28" y="0" font-family='"Liberation Sans",Arial,sans-serif' font-weight="bold" font-style="normal" font-size="31.50" fill="#930086">3</text>
<text transform="translate(0 706.50) scale(1.0000 1.0400)" x="1327.62 1348.31" y="0" font-family='"Liberation Sans",Arial,sans-serif' font-weight="bold" font-style="normal" font-size="31.50" fill="#930086">12</text>
<text transform="translate(0 1083.00) scale(1.0000 1.0400)" x="1364.25 1401.39 1417.49 1454.73 1474.74" y="0" font-family='"Liberation Sans",Arial,sans-serif' font-weight="bold" font-style="normal" font-size="55.50" fill="#990000" stroke="#990000" stroke-width="1.15" stroke-linejoin="round">ZIF-8</text>
<text transform="translate(0 1926.50) scale(1.0000 1.0400)" x="317.95 335.79 382.79 435.89 452.79" y="0" font-family='"Liberation Sans",Arial,sans-serif' font-weight="bold" font-style="normal" font-size="61.50" fill="#000080" stroke="#000080" stroke-width="1.35" stroke-linejoin="round">[BMIM</text>
<text transform="translate(0 1926.50) scale(1.0000 1.2800)" x="507.75" y="0" font-family='"Liberation Sans",Arial,sans-serif' font-weight="bold" font-style="normal" font-size="61.50" fill="#000080" stroke="#000080" stroke-width="1.09" stroke-linejoin="round">]</text>
<text transform="translate(0 1926.50) scale(1.0000 1.0400)" x="548.99 591.39 643.90" y="0" font-family='"Liberation Sans",Arial,sans-serif' font-weight="bold" font-style="normal" font-size="61.50" fill="#000080" stroke="#000080" stroke-width="1.35" stroke-linejoin="round">PMo</text>
<text transform="translate(0 1957.50) scale(1.0000 1.0400)" x="528.35" y="0" font-family='"Liberation Sans",Arial,sans-serif' font-weight="bold" font-style="normal" font-size="37.00" fill="#000080">3</text>
<text transform="translate(0 1957.50) scale(1.0000 1.0400)" x="684.67 704.82" y="0" font-family='"Liberation Sans",Arial,sans-serif' font-weight="bold" font-style="normal" font-size="37.00" fill="#000080">12</text>
<text transform="translate(0 2435.00) scale(1.0000 1.0400)" x="317.95 335.79 382.79 435.89 452.79" y="0" font-family='"Liberation Sans",Arial,sans-serif' font-weight="bold" font-style="normal" font-size="61.50" fill="#930086" stroke="#930086" stroke-width="1.35" stroke-linejoin="round">[BMIM</text>
<text transform="translate(0 2435.00) scale(1.0000 1.2800)" x="507.75" y="0" font-family='"Liberation Sans",Arial,sans-serif' font-weight="bold" font-style="normal" font-size="61.50" fill="#930086" stroke="#930086" stroke-width="1.09" stroke-linejoin="round">]</text>
<text transform="translate(0 2435.00) scale(1.0000 1.0400)" x="548.99 591.39 643.90" y="0" font-family='"Liberation Sans",Arial,sans-serif' font-weight="bold" font-style="normal" font-size="61.50" fill="#930086" stroke="#930086" stroke-width="1.35" stroke-linejoin="round">PMo</text>
<text transform="translate(0 2466.00) scale(1.0000 1.0400)" x="528.35" y="0" font-family='"Liberation Sans",Arial,sans-serif' font-weight="bold" font-style="normal" font-size="37.00" fill="#930086">3</text>
<text transform="translate(0 2466.00) scale(1.0000 1.0400)" x="684.67 704.82" y="0" font-family='"Liberation Sans",Arial,sans-serif' font-weight="bold" font-style="normal" font-size="37.00" fill="#930086">12</text>
<text transform="translate(0 2435.00) scale(1.0000 1.0400)" x="723.59 785.67 826.19 844.59 883.90 906.25" y="0" font-family='"Liberation Sans",Arial,sans-serif' font-weight="bold" font-style="normal" font-size="61.50" fill="#930086" stroke="#930086" stroke-width="1.35" stroke-linejoin="round">@ZIF-8</text>
<text transform="translate(0 2749.50) scale(1.0000 1.0400)" x="317.07 357.09 375.49 414.70 435.95" y="0" font-family='"Liberation Sans",Arial,sans-serif' font-weight="bold" font-style="normal" font-size="61.50" fill="#990000" stroke="#990000" stroke-width="1.35" stroke-linejoin="round">ZIF-8</text>
<text transform="translate(0 1319.60) scale(1.0000 1.0500)" x="172.60" y="0" font-family='"Liberation Sans",Arial,sans-serif' font-weight="bold" font-style="normal" font-size="62.50" fill="#000" text-anchor="middle">5</text>
<text transform="translate(0 1319.60) scale(1.0000 1.0500)" x="466.74" y="0" font-family='"Liberation Sans",Arial,sans-serif' font-weight="bold" font-style="normal" font-size="62.50" fill="#000" text-anchor="middle">10</text>
<text transform="translate(0 1319.60) scale(1.0000 1.0500)" x="760.88" y="0" font-family='"Liberation Sans",Arial,sans-serif' font-weight="bold" font-style="normal" font-size="62.50" fill="#000" text-anchor="middle">15</text>
<text transform="translate(0 1319.60) scale(1.0000 1.0500)" x="1055.02" y="0" font-family='"Liberation Sans",Arial,sans-serif' font-weight="bold" font-style="normal" font-size="62.50" fill="#000" text-anchor="middle">20</text>
<text transform="translate(0 1319.60) scale(1.0000 1.0500)" x="1349.16" y="0" font-family='"Liberation Sans",Arial,sans-serif' font-weight="bold" font-style="normal" font-size="62.50" fill="#000" text-anchor="middle">25</text>
<text transform="translate(0 1319.60) scale(1.0000 1.0500)" x="1643.30" y="0" font-family='"Liberation Sans",Arial,sans-serif' font-weight="bold" font-style="normal" font-size="62.50" fill="#000" text-anchor="middle">30</text>
<text transform="translate(0 2924.20) scale(1.0000 1.0500)" x="120.50" y="0" font-family='"Liberation Sans",Arial,sans-serif' font-weight="bold" font-style="normal" font-size="63.00" fill="#000" text-anchor="middle">1800</text>
<text transform="translate(0 2924.20) scale(1.0000 1.0500)" x="344.76" y="0" font-family='"Liberation Sans",Arial,sans-serif' font-weight="bold" font-style="normal" font-size="63.00" fill="#000" text-anchor="middle">1600</text>
<text transform="translate(0 2924.20) scale(1.0000 1.0500)" x="569.02" y="0" font-family='"Liberation Sans",Arial,sans-serif' font-weight="bold" font-style="normal" font-size="63.00" fill="#000" text-anchor="middle">1400</text>
<text transform="translate(0 2924.20) scale(1.0000 1.0500)" x="793.27" y="0" font-family='"Liberation Sans",Arial,sans-serif' font-weight="bold" font-style="normal" font-size="63.00" fill="#000" text-anchor="middle">1200</text>
<text transform="translate(0 2924.20) scale(1.0000 1.0500)" x="1017.53" y="0" font-family='"Liberation Sans",Arial,sans-serif' font-weight="bold" font-style="normal" font-size="63.00" fill="#000" text-anchor="middle">1000</text>
<text transform="translate(0 2924.20) scale(1.0000 1.0500)" x="1241.79" y="0" font-family='"Liberation Sans",Arial,sans-serif' font-weight="bold" font-style="normal" font-size="63.00" fill="#000" text-anchor="middle">800</text>
<text transform="translate(0 2924.20) scale(1.0000 1.0500)" x="1466.05" y="0" font-family='"Liberation Sans",Arial,sans-serif' font-weight="bold" font-style="normal" font-size="63.00" fill="#000" text-anchor="middle">600</text>
<text transform="translate(0 2924.20) scale(1.0000 1.0500)" x="1690.31" y="0" font-family='"Liberation Sans",Arial,sans-serif' font-weight="bold" font-style="normal" font-size="63.00" fill="#000" text-anchor="middle">400</text>
<text transform="translate(108.70 0) rotate(-90) scale(1 1.0500)" x="-907.25 -890.19 -849.06 -828.82 -792.19 -752.48 -716.23 -696.66 -672.88 -638.40 -620.19 -599.52 -564.11 -546.88 -527.74 -487.91 -466.76" y="0" font-family='"Liberation Sans",Arial,sans-serif' font-weight="bold" font-style="normal" font-size="62.00" fill="#000">Intensity (a. u.)</text>
<text transform="translate(57.90 0) rotate(-90) scale(1 1.0500)" x="-2584.30 -2545.39 -2519.02 -2481.69 -2440.98 -2402.89 -2342.83 -2325.56 -2301.36 -2279.42 -2241.99 -2203.02 -2164.52 -2130.04 -2109.19 -2086.92 -2049.81 -2032.58 -2012.54 -1972.91 -1950.56" y="0" font-family='"Liberation Sans",Arial,sans-serif' font-weight="bold" font-style="normal" font-size="62.00" fill="#000">Transmittance (a. u.)</text>
<text transform="translate(0 1433.50) scale(1.0000 1.0400)" x="816.22" y="0" font-family='"Liberation Sans",Arial,sans-serif' font-weight="bold" font-style="normal" font-size="63.00" fill="#000">2</text>
<text transform="translate(0 1434.60) scale(1.2200 1.0000)" x="701.69" y="0" font-family='"Liberation Serif","Times New Roman",serif' font-weight="normal" font-style="italic" font-size="61.00" fill="#000">θ</text>
<text transform="translate(0 1434.80) scale(1.0000 1.0000)" x="917.22" y="0" font-family='"Liberation Serif","Times New Roman",serif' font-weight="normal" font-style="normal" font-size="61.00" fill="#000">(</text>
<text transform="translate(0 1434.80) scale(1.0000 1.0000)" x="976.63" y="0" font-family='"Liberation Serif","Times New Roman",serif' font-weight="normal" font-style="normal" font-size="61.00" fill="#000">)</text>
<text transform="translate(0 1418.60) scale(1.0000 1.0000)" x="946.72" y="0" font-family='"Liberation Serif","Times New Roman",serif' font-weight="normal" font-style="normal" font-size="54.00" fill="#000">°</text>
<text transform="translate(0 3010.80) scale(1.0000 1.0400)" x="611.44 672.94 706.77 743.16 777.74 818.58 855.34 913.04 951.66 986.94 1010.29 1030.51 1052.16 1086.34" y="0" font-family='"Liberation Sans",Arial,sans-serif' font-weight="bold" font-style="normal" font-size="60.00" fill="#000">Wavenumber (cm</text>
<text transform="translate(0 2976.20) scale(1.0000 1.0400)" x="1144.07 1157.26" y="0" font-family='"Liberation Sans",Arial,sans-serif' font-weight="bold" font-style="normal" font-size="34.00" fill="#000">-1</text>
<text transform="translate(0 3010.80) scale(1.0000 1.0400)" x="1179.54" y="0" font-family='"Liberation Sans",Arial,sans-serif' font-weight="bold" font-style="normal" font-size="60.00" fill="#000">)</text>
<text transform="translate(0 1601.20) scale(1.0000 1.0000)" x="815.20" y="0" font-family='"Liberation Serif","Times New Roman",serif' font-weight="normal" font-style="normal" font-size="84.30" fill="#000">(</text>
<text transform="translate(0 1601.20) scale(1.0000 1.0000)" x="842.18" y="0" font-family='"Liberation Serif","Times New Roman",serif' font-weight="bold" font-style="normal" font-size="84.30" fill="#000">a</text>
<text transform="translate(0 1601.20) scale(1.0000 1.0000)" x="885.78" y="0" font-family='"Liberation Serif","Times New Roman",serif' font-weight="normal" font-style="normal" font-size="84.30" fill="#000">)</text>
<text transform="translate(0 3131.20) scale(1.0000 1.0000)" x="810.16" y="0" font-family='"Liberation Serif","Times New Roman",serif' font-weight="normal" font-style="normal" font-size="85.00" fill="#000">(</text>
<text transform="translate(0 3131.20) scale(1.0000 1.0000)" x="837.02" y="0" font-family='"Liberation Serif","Times New Roman",serif' font-weight="bold" font-style="normal" font-size="85.00" fill="#000">b</text>
<text transform="translate(0 3131.20) scale(1.0000 1.0000)" x="888.26" y="0" font-family='"Liberation Serif","Times New Roman",serif' font-weight="normal" font-style="normal" font-size="85.00" fill="#000">)</text>
</svg></body></html>
